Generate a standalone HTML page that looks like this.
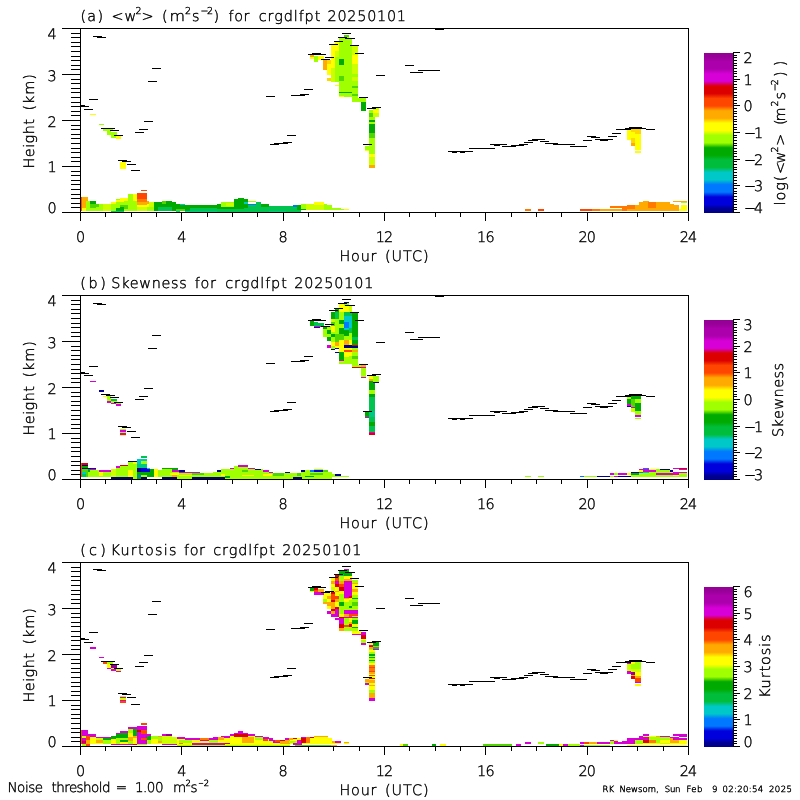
<!DOCTYPE html>
<html><head><meta charset="utf-8"><title>Doppler lidar vertical velocity statistics</title>
<style>
html,body{margin:0;padding:0;background:#fff;}
body{width:800px;height:800px;overflow:hidden;}
svg{display:block;}
text{font-family:"DejaVu Sans Light","DejaVu Sans","Liberation Sans",sans-serif;fill:#000;stroke:#000;stroke-width:0.4px;shape-rendering:auto;text-rendering:geometricPrecision;}
.sm{stroke-width:0.3px;}
</style></head><body>
<svg width="800" height="800" viewBox="0 0 800 800" shape-rendering="crispEdges">
<defs><linearGradient id="cm" x1="0" y1="0" x2="0" y2="1">
<stop offset="0.0000" stop-color="rgb(150,0,150)"/>
<stop offset="0.0231" stop-color="rgb(150,0,150)"/>
<stop offset="0.0538" stop-color="rgb(172,0,172)"/>
<stop offset="0.1000" stop-color="rgb(172,0,172)"/>
<stop offset="0.1308" stop-color="rgb(215,0,215)"/>
<stop offset="0.1769" stop-color="rgb(215,0,215)"/>
<stop offset="0.2077" stop-color="rgb(220,0,0)"/>
<stop offset="0.2538" stop-color="rgb(220,0,0)"/>
<stop offset="0.2846" stop-color="rgb(255,70,0)"/>
<stop offset="0.3308" stop-color="rgb(255,70,0)"/>
<stop offset="0.3615" stop-color="rgb(255,170,0)"/>
<stop offset="0.4077" stop-color="rgb(255,170,0)"/>
<stop offset="0.4385" stop-color="rgb(255,255,0)"/>
<stop offset="0.4846" stop-color="rgb(255,255,0)"/>
<stop offset="0.5154" stop-color="rgb(160,255,0)"/>
<stop offset="0.5615" stop-color="rgb(160,255,0)"/>
<stop offset="0.5923" stop-color="rgb(0,170,0)"/>
<stop offset="0.6385" stop-color="rgb(0,170,0)"/>
<stop offset="0.6692" stop-color="rgb(0,190,60)"/>
<stop offset="0.7154" stop-color="rgb(0,190,60)"/>
<stop offset="0.7462" stop-color="rgb(0,200,200)"/>
<stop offset="0.7923" stop-color="rgb(0,200,200)"/>
<stop offset="0.8231" stop-color="rgb(0,120,255)"/>
<stop offset="0.8692" stop-color="rgb(0,120,255)"/>
<stop offset="0.9000" stop-color="rgb(0,0,220)"/>
<stop offset="0.9462" stop-color="rgb(0,0,220)"/>
<stop offset="0.9769" stop-color="rgb(0,0,140)"/>
<stop offset="1.0000" stop-color="rgb(0,0,140)"/>
</linearGradient></defs>
<rect x="0" y="0" width="800" height="800" fill="#fff"/>
<rect x="90" y="114" width="6" height="1" fill="#ffff00"/>
<rect x="99" y="124" width="5" height="1" fill="#a0ff00"/>
<rect x="103" y="129" width="10" height="2" fill="#a0ff00"/>
<rect x="107" y="131" width="4" height="4" fill="#a0ff00"/>
<rect x="111" y="132" width="6" height="4" fill="#a0ff00"/>
<rect x="111" y="136" width="5" height="2" fill="#a0ff00"/>
<rect x="116" y="136" width="5" height="3" fill="#ffff00"/>
<rect x="120" y="162" width="6" height="7" fill="#ffff00"/>
<rect x="323" y="60" width="4" height="10" fill="#ffaa00"/>
<rect x="327" y="60" width="4" height="4" fill="#ffd700"/>
<rect x="327" y="64" width="4" height="11" fill="#ffff00"/>
<rect x="327" y="78" width="4" height="3" fill="#ffd700"/>
<rect x="331" y="45" width="4" height="23" fill="#ffff00"/>
<rect x="331" y="68" width="4" height="14" fill="#cdff00"/>
<rect x="335" y="42" width="4" height="9" fill="#ffff00"/>
<rect x="335" y="51" width="4" height="6" fill="#cdff00"/>
<rect x="335" y="57" width="4" height="25" fill="#a0ff00"/>
<rect x="335" y="85" width="4" height="1" fill="#ffff00"/>
<rect x="339" y="38" width="5" height="21" fill="#a0ff00"/>
<rect x="339" y="59" width="5" height="6" fill="#00aa00"/>
<rect x="339" y="65" width="5" height="11" fill="#a0ff00"/>
<rect x="339" y="76" width="5" height="5" fill="#50d700"/>
<rect x="339" y="81" width="5" height="11" fill="#a0ff00"/>
<rect x="339" y="92" width="5" height="1" fill="#00aa00"/>
<rect x="339" y="93" width="5" height="3" fill="#a0ff00"/>
<rect x="339" y="96" width="5" height="1" fill="#ffff00"/>
<rect x="344" y="35" width="5" height="2" fill="#50d700"/>
<rect x="344" y="37" width="5" height="55" fill="#a0ff00"/>
<rect x="344" y="92" width="5" height="1" fill="#00aa00"/>
<rect x="344" y="93" width="5" height="4" fill="#a0ff00"/>
<rect x="349" y="38" width="3" height="54" fill="#a0ff00"/>
<rect x="349" y="92" width="3" height="1" fill="#00aa00"/>
<rect x="349" y="93" width="3" height="4" fill="#a0ff00"/>
<rect x="352" y="46" width="6" height="9" fill="#cdff00"/>
<rect x="352" y="55" width="6" height="9" fill="#ffff00"/>
<rect x="352" y="64" width="6" height="10" fill="#cdff00"/>
<rect x="352" y="74" width="6" height="3" fill="#a0ff00"/>
<rect x="352" y="77" width="6" height="4" fill="#cdff00"/>
<rect x="352" y="81" width="6" height="5" fill="#a0ff00"/>
<rect x="352" y="86" width="6" height="2" fill="#50d700"/>
<rect x="352" y="88" width="6" height="6" fill="#a0ff00"/>
<rect x="352" y="94" width="6" height="2" fill="#50d700"/>
<rect x="352" y="96" width="6" height="6" fill="#a0ff00"/>
<rect x="358" y="98" width="8" height="4" fill="#a0ff00"/>
<rect x="310" y="55" width="4" height="2" fill="#ffaa00"/>
<rect x="310" y="57" width="4" height="2" fill="#ffff00"/>
<rect x="314" y="56" width="4" height="6" fill="#a0ff00"/>
<rect x="318" y="56" width="6" height="4" fill="#ffff00"/>
<rect x="361" y="102" width="5" height="9" fill="#00aa00"/>
<rect x="369" y="110" width="6" height="3" fill="#a0ff00"/>
<rect x="369" y="113" width="6" height="4" fill="#50d700"/>
<rect x="369" y="117" width="6" height="3" fill="#a0ff00"/>
<rect x="369" y="120" width="6" height="2" fill="#00aa00"/>
<rect x="369" y="122" width="6" height="2" fill="#a0ff00"/>
<rect x="369" y="124" width="6" height="9" fill="#00aa00"/>
<rect x="369" y="133" width="6" height="5" fill="#50d700"/>
<rect x="369" y="138" width="6" height="16" fill="#a0ff00"/>
<rect x="369" y="154" width="6" height="3" fill="#ffff00"/>
<rect x="369" y="157" width="6" height="8" fill="#cdff00"/>
<rect x="369" y="165" width="6" height="3" fill="#ffaa00"/>
<rect x="373" y="108" width="6" height="2" fill="#cdff00"/>
<rect x="373" y="110" width="6" height="3" fill="#ffff00"/>
<rect x="373" y="113" width="6" height="4" fill="#cdff00"/>
<rect x="365" y="146" width="4" height="4" fill="#a0ff00"/>
<rect x="365" y="150" width="4" height="1" fill="#ffff00"/>
<rect x="627" y="130" width="4" height="10" fill="#ffff00"/>
<rect x="631" y="129" width="4" height="3" fill="#ffd700"/>
<rect x="631" y="132" width="4" height="6" fill="#ffff00"/>
<rect x="631" y="138" width="4" height="5" fill="#ffd700"/>
<rect x="631" y="143" width="4" height="3" fill="#ffaa00"/>
<rect x="635" y="129" width="6" height="5" fill="#ffd700"/>
<rect x="635" y="134" width="6" height="16" fill="#ffff00"/>
<rect x="635" y="151" width="6" height="2" fill="#ffff00"/>
<rect x="81" y="197" width="5" height="11" fill="#ffaa00"/>
<rect x="81" y="208" width="5" height="3" fill="#ffff00"/>
<rect x="81" y="197" width="1" height="14" fill="#ff4600"/>
<rect x="86" y="197" width="2" height="4" fill="#ffaa00"/>
<rect x="86" y="201" width="4" height="10" fill="#a0ff00"/>
<rect x="90" y="201" width="6" height="3" fill="#00aa00"/>
<rect x="90" y="204" width="6" height="4" fill="#50d700"/>
<rect x="90" y="208" width="6" height="3" fill="#a0ff00"/>
<rect x="96" y="204" width="3" height="3" fill="#50d700"/>
<rect x="96" y="207" width="3" height="4" fill="#a0ff00"/>
<rect x="99" y="204" width="4" height="7" fill="#a0ff00"/>
<rect x="103" y="204" width="8" height="7" fill="#cdff00"/>
<rect x="111" y="202" width="5" height="2" fill="#ffff00"/>
<rect x="111" y="204" width="5" height="7" fill="#a0ff00"/>
<rect x="111" y="211" width="5" height="1" fill="#00c882"/>
<rect x="116" y="199" width="4" height="1" fill="#a0ff00"/>
<rect x="116" y="200" width="4" height="2" fill="#ffff00"/>
<rect x="116" y="202" width="4" height="6" fill="#a0ff00"/>
<rect x="116" y="208" width="4" height="3" fill="#00aa00"/>
<rect x="116" y="211" width="4" height="1" fill="#00c882"/>
<rect x="120" y="198" width="4" height="4" fill="#ffff00"/>
<rect x="120" y="202" width="4" height="3" fill="#a0ff00"/>
<rect x="120" y="205" width="4" height="2" fill="#50d700"/>
<rect x="120" y="207" width="4" height="4" fill="#00aa00"/>
<rect x="120" y="211" width="4" height="1" fill="#00c882"/>
<rect x="124" y="198" width="4" height="3" fill="#ffff00"/>
<rect x="124" y="201" width="4" height="4" fill="#a0ff00"/>
<rect x="124" y="205" width="4" height="4" fill="#50d700"/>
<rect x="124" y="209" width="4" height="2" fill="#a0ff00"/>
<rect x="128" y="194" width="5" height="17" fill="#a0ff00"/>
<rect x="133" y="194" width="4" height="7" fill="#ffff00"/>
<rect x="133" y="201" width="4" height="10" fill="#a0ff00"/>
<rect x="137" y="193" width="10" height="6" fill="#ff4600"/>
<rect x="137" y="199" width="10" height="3" fill="#ff7800"/>
<rect x="137" y="202" width="10" height="3" fill="#ffaa00"/>
<rect x="137" y="205" width="10" height="2" fill="#ffff00"/>
<rect x="137" y="207" width="10" height="4" fill="#cdff00"/>
<rect x="141" y="190" width="6" height="1" fill="#ff4600"/>
<rect x="147" y="201" width="2" height="3" fill="#ffaa00"/>
<rect x="147" y="204" width="2" height="3" fill="#ffff00"/>
<rect x="147" y="207" width="2" height="4" fill="#a0ff00"/>
<rect x="149" y="202" width="5" height="5" fill="#cdff00"/>
<rect x="149" y="207" width="5" height="4" fill="#a0ff00"/>
<rect x="154" y="202" width="8" height="5" fill="#00aa00"/>
<rect x="154" y="207" width="8" height="4" fill="#00c350"/>
<rect x="154" y="207" width="4" height="4" fill="#00aa00"/>
<rect x="162" y="201" width="4" height="3" fill="#50d700"/>
<rect x="162" y="204" width="4" height="3" fill="#00aa00"/>
<rect x="162" y="207" width="4" height="4" fill="#00c350"/>
<rect x="166" y="201" width="6" height="6" fill="#00aa00"/>
<rect x="166" y="207" width="6" height="4" fill="#00c350"/>
<rect x="172" y="202" width="4" height="9" fill="#00aa00"/>
<rect x="176" y="204" width="4" height="5" fill="#00aa00"/>
<rect x="176" y="209" width="4" height="2" fill="#50d700"/>
<rect x="176" y="211" width="4" height="1" fill="#00c8c8"/>
<rect x="180" y="204" width="5" height="1" fill="#00c8c8"/>
<rect x="180" y="205" width="5" height="4" fill="#00aa00"/>
<rect x="180" y="209" width="5" height="2" fill="#50d700"/>
<rect x="185" y="205" width="6" height="6" fill="#00aa00"/>
<rect x="185" y="211" width="6" height="1" fill="#00c8c8"/>
<rect x="190" y="205" width="27" height="3" fill="#00aa00"/>
<rect x="190" y="208" width="27" height="3" fill="#00c350"/>
<rect x="190" y="211" width="27" height="1" fill="#00c882"/>
<rect x="217" y="204" width="4" height="5" fill="#00aa00"/>
<rect x="217" y="209" width="4" height="3" fill="#00c350"/>
<rect x="221" y="202" width="13" height="5" fill="#a0ff00"/>
<rect x="221" y="207" width="13" height="2" fill="#00aa00"/>
<rect x="221" y="209" width="13" height="3" fill="#00c350"/>
<rect x="226" y="203" width="8" height="3" fill="#cdff00"/>
<rect x="234" y="199" width="4" height="10" fill="#00aa00"/>
<rect x="234" y="209" width="4" height="3" fill="#00c350"/>
<rect x="238" y="198" width="6" height="11" fill="#00aa00"/>
<rect x="238" y="209" width="6" height="3" fill="#00c350"/>
<rect x="244" y="199" width="4" height="3" fill="#00aa00"/>
<rect x="244" y="202" width="4" height="2" fill="#00c8c8"/>
<rect x="244" y="204" width="4" height="4" fill="#00aa00"/>
<rect x="244" y="208" width="4" height="4" fill="#00c350"/>
<rect x="248" y="201" width="8" height="1" fill="#a0ff00"/>
<rect x="248" y="204" width="8" height="1" fill="#0078ff"/>
<rect x="248" y="205" width="8" height="7" fill="#00c350"/>
<rect x="256" y="202" width="5" height="10" fill="#00c350"/>
<rect x="261" y="204" width="8" height="3" fill="#00aa00"/>
<rect x="261" y="207" width="8" height="5" fill="#00c350"/>
<rect x="269" y="206" width="17" height="5" fill="#00c350"/>
<rect x="269" y="211" width="17" height="1" fill="#00c882"/>
<rect x="286" y="206" width="7" height="6" fill="#00c350"/>
<rect x="293" y="205" width="4" height="2" fill="#0078ff"/>
<rect x="293" y="207" width="4" height="5" fill="#00c350"/>
<rect x="297" y="205" width="4" height="5" fill="#00aa00"/>
<rect x="297" y="210" width="4" height="2" fill="#00c350"/>
<rect x="301" y="204" width="5" height="5" fill="#a0ff00"/>
<rect x="301" y="209" width="5" height="1" fill="#00aa00"/>
<rect x="306" y="204" width="8" height="6" fill="#cdff00"/>
<rect x="314" y="202" width="10" height="3" fill="#ffff00"/>
<rect x="314" y="205" width="10" height="5" fill="#cdff00"/>
<rect x="324" y="204" width="3" height="6" fill="#a0ff00"/>
<rect x="327" y="205" width="5" height="5" fill="#a0ff00"/>
<rect x="332" y="208" width="9" height="2" fill="#a0ff00"/>
<rect x="341" y="209" width="3" height="1" fill="#a0ff00"/>
<rect x="344" y="209" width="5" height="1" fill="#ffff00"/>
<rect x="525" y="209" width="6" height="2" fill="#ff7800"/>
<rect x="538" y="209" width="6" height="2" fill="#ff4600"/>
<rect x="580" y="209" width="12" height="2" fill="#ff4600"/>
<rect x="592" y="209" width="8" height="2" fill="#ff7800"/>
<rect x="600" y="209" width="10" height="2" fill="#ffaa00"/>
<rect x="610" y="206" width="12" height="2" fill="#ff7800"/>
<rect x="610" y="209" width="12" height="2" fill="#ffaa00"/>
<rect x="622" y="206" width="5" height="5" fill="#ff7800"/>
<rect x="627" y="205" width="8" height="4" fill="#ff7800"/>
<rect x="627" y="209" width="8" height="2" fill="#ffaa00"/>
<rect x="635" y="205" width="4" height="6" fill="#ffaa00"/>
<rect x="639" y="202" width="4" height="9" fill="#ffaa00"/>
<rect x="643" y="201" width="6" height="10" fill="#ffaa00"/>
<rect x="649" y="202" width="21" height="9" fill="#ffaa00"/>
<rect x="648" y="202" width="8" height="6" fill="#ff7800"/>
<rect x="670" y="204" width="4" height="7" fill="#ffaa00"/>
<rect x="674" y="205" width="5" height="6" fill="#ffaa00"/>
<rect x="679" y="209" width="2" height="2" fill="#ffff00"/>
<rect x="673" y="201" width="8" height="1" fill="#ffaa00"/>
<rect x="681" y="201" width="6" height="1" fill="#ffaa00"/>
<rect x="681" y="202" width="6" height="1" fill="#a0ff00"/>
<rect x="681" y="205" width="6" height="6" fill="#ffff00"/>
<rect x="90" y="381" width="6" height="1" fill="#d700d7"/>
<rect x="99" y="390" width="5" height="2" fill="#00008c"/>
<rect x="103" y="396" width="4" height="1" fill="#ffff00"/>
<rect x="107" y="396" width="4" height="5" fill="#a0ff00"/>
<rect x="107" y="401" width="4" height="1" fill="#50d700"/>
<rect x="107" y="401" width="4" height="2" fill="#d700d7"/>
<rect x="111" y="399" width="6" height="2" fill="#00c350"/>
<rect x="111" y="401" width="6" height="2" fill="#a0ff00"/>
<rect x="111" y="403" width="6" height="1" fill="#d700d7"/>
<rect x="116" y="403" width="5" height="1" fill="#a0ff00"/>
<rect x="116" y="404" width="5" height="2" fill="#d700d7"/>
<rect x="120" y="429" width="6" height="1" fill="#a0ff00"/>
<rect x="120" y="430" width="6" height="2" fill="#d700d7"/>
<rect x="120" y="432" width="6" height="1" fill="#a0ff00"/>
<rect x="120" y="433" width="6" height="2" fill="#d700d7"/>
<rect x="120" y="435" width="6" height="1" fill="#ffff00"/>
<rect x="141" y="456" width="6" height="2" fill="#00c350"/>
<rect x="323" y="327" width="4" height="2" fill="#00aa00"/>
<rect x="323" y="329" width="4" height="8" fill="#a0ff00"/>
<rect x="327" y="326" width="4" height="4" fill="#a0ff00"/>
<rect x="327" y="330" width="4" height="4" fill="#00aa00"/>
<rect x="327" y="334" width="4" height="3" fill="#a0ff00"/>
<rect x="327" y="337" width="4" height="4" fill="#00aa00"/>
<rect x="327" y="345" width="4" height="3" fill="#d700d7"/>
<rect x="331" y="312" width="4" height="7" fill="#00aa00"/>
<rect x="331" y="319" width="4" height="3" fill="#cdff00"/>
<rect x="331" y="322" width="4" height="4" fill="#50d700"/>
<rect x="331" y="326" width="4" height="6" fill="#ffff00"/>
<rect x="331" y="332" width="4" height="2" fill="#a0ff00"/>
<rect x="331" y="334" width="4" height="3" fill="#00aa00"/>
<rect x="331" y="337" width="4" height="5" fill="#a0ff00"/>
<rect x="331" y="342" width="4" height="4" fill="#ffff00"/>
<rect x="331" y="346" width="4" height="3" fill="#a0ff00"/>
<rect x="331" y="349" width="4" height="1" fill="#00008c"/>
<rect x="335" y="309" width="4" height="3" fill="#00aa00"/>
<rect x="335" y="312" width="4" height="7" fill="#00c350"/>
<rect x="335" y="319" width="4" height="15" fill="#a0ff00"/>
<rect x="335" y="334" width="4" height="8" fill="#50d700"/>
<rect x="335" y="342" width="4" height="4" fill="#ffaa00"/>
<rect x="335" y="346" width="4" height="2" fill="#ffff00"/>
<rect x="335" y="348" width="4" height="1" fill="#0000dc"/>
<rect x="335" y="352" width="4" height="1" fill="#00008c"/>
<rect x="339" y="304" width="5" height="8" fill="#ffff00"/>
<rect x="339" y="312" width="5" height="8" fill="#a0ff00"/>
<rect x="339" y="320" width="5" height="4" fill="#00aa00"/>
<rect x="339" y="324" width="5" height="4" fill="#a0ff00"/>
<rect x="339" y="328" width="5" height="6" fill="#00aa00"/>
<rect x="339" y="334" width="5" height="6" fill="#50d700"/>
<rect x="339" y="340" width="5" height="12" fill="#ffff00"/>
<rect x="339" y="352" width="5" height="8" fill="#00aa00"/>
<rect x="339" y="360" width="5" height="1" fill="#d700d7"/>
<rect x="339" y="361" width="5" height="3" fill="#a0ff00"/>
<rect x="344" y="302" width="5" height="1" fill="#00008c"/>
<rect x="344" y="303" width="5" height="3" fill="#a0ff00"/>
<rect x="344" y="306" width="5" height="6" fill="#ffff00"/>
<rect x="344" y="312" width="5" height="4" fill="#00c350"/>
<rect x="344" y="316" width="5" height="6" fill="#00c8c8"/>
<rect x="344" y="322" width="5" height="6" fill="#0078ff"/>
<rect x="344" y="328" width="5" height="2" fill="#00c8c8"/>
<rect x="344" y="330" width="5" height="6" fill="#00aa00"/>
<rect x="344" y="336" width="5" height="4" fill="#a0ff00"/>
<rect x="344" y="340" width="5" height="5" fill="#ffaa00"/>
<rect x="344" y="345" width="5" height="3" fill="#00008c"/>
<rect x="344" y="348" width="5" height="2" fill="#ffff00"/>
<rect x="344" y="350" width="5" height="2" fill="#ff4600"/>
<rect x="344" y="352" width="5" height="5" fill="#ffff00"/>
<rect x="344" y="357" width="5" height="7" fill="#a0ff00"/>
<rect x="349" y="306" width="3" height="6" fill="#cdff00"/>
<rect x="349" y="312" width="3" height="4" fill="#00c350"/>
<rect x="349" y="316" width="3" height="12" fill="#00c8c8"/>
<rect x="349" y="328" width="3" height="5" fill="#00c350"/>
<rect x="349" y="333" width="3" height="7" fill="#a0ff00"/>
<rect x="349" y="340" width="3" height="5" fill="#ffff00"/>
<rect x="349" y="345" width="3" height="3" fill="#00008c"/>
<rect x="349" y="348" width="3" height="2" fill="#ffff00"/>
<rect x="349" y="350" width="3" height="2" fill="#ff4600"/>
<rect x="349" y="352" width="3" height="4" fill="#ffff00"/>
<rect x="349" y="356" width="3" height="8" fill="#a0ff00"/>
<rect x="352" y="313" width="6" height="24" fill="#00aa00"/>
<rect x="352" y="337" width="6" height="3" fill="#00c350"/>
<rect x="352" y="340" width="6" height="5" fill="#00aa00"/>
<rect x="352" y="345" width="6" height="1" fill="#dc0000"/>
<rect x="352" y="346" width="6" height="2" fill="#00008c"/>
<rect x="352" y="348" width="6" height="2" fill="#a0ff00"/>
<rect x="352" y="350" width="6" height="2" fill="#ffaa00"/>
<rect x="352" y="352" width="6" height="4" fill="#a0ff00"/>
<rect x="352" y="356" width="6" height="3" fill="#50d700"/>
<rect x="352" y="359" width="6" height="8" fill="#a0ff00"/>
<rect x="352" y="367" width="6" height="1" fill="#dc0000"/>
<rect x="358" y="365" width="3" height="2" fill="#a0ff00"/>
<rect x="358" y="367" width="3" height="1" fill="#dc0000"/>
<rect x="361" y="365" width="5" height="2" fill="#ffaa00"/>
<rect x="361" y="367" width="5" height="1" fill="#d700d7"/>
<rect x="361" y="368" width="5" height="9" fill="#a0ff00"/>
<rect x="361" y="377" width="5" height="1" fill="#d700d7"/>
<rect x="310" y="321" width="4" height="5" fill="#00aa00"/>
<rect x="314" y="322" width="4" height="4" fill="#00c350"/>
<rect x="318" y="323" width="6" height="3" fill="#00c350"/>
<rect x="314" y="326" width="10" height="1" fill="#d700d7"/>
<rect x="314" y="327" width="6" height="1" fill="#00008c"/>
<rect x="369" y="376" width="6" height="3" fill="#ffff00"/>
<rect x="369" y="379" width="6" height="2" fill="#ffaa00"/>
<rect x="369" y="381" width="6" height="7" fill="#00aa00"/>
<rect x="369" y="388" width="6" height="1" fill="#a0ff00"/>
<rect x="369" y="388" width="6" height="2" fill="#00aa00"/>
<rect x="369" y="390" width="6" height="4" fill="#a0ff00"/>
<rect x="369" y="394" width="6" height="3" fill="#00aa00"/>
<rect x="369" y="397" width="6" height="14" fill="#00c350"/>
<rect x="369" y="411" width="6" height="6" fill="#00c882"/>
<rect x="369" y="417" width="6" height="5" fill="#00c350"/>
<rect x="369" y="422" width="6" height="4" fill="#00aa00"/>
<rect x="369" y="426" width="6" height="6" fill="#00c350"/>
<rect x="369" y="432" width="6" height="1" fill="#d700d7"/>
<rect x="369" y="433" width="6" height="2" fill="#dc0000"/>
<rect x="373" y="376" width="6" height="6" fill="#a0ff00"/>
<rect x="373" y="382" width="6" height="1" fill="#00008c"/>
<rect x="365" y="412" width="4" height="5" fill="#00aa00"/>
<rect x="365" y="417" width="4" height="1" fill="#d700d7"/>
<rect x="627" y="397" width="4" height="2" fill="#a0ff00"/>
<rect x="627" y="399" width="4" height="5" fill="#00aa00"/>
<rect x="627" y="404" width="4" height="2" fill="#d700d7"/>
<rect x="627" y="406" width="4" height="1" fill="#00008c"/>
<rect x="631" y="396" width="4" height="3" fill="#00aa00"/>
<rect x="631" y="399" width="4" height="8" fill="#50d700"/>
<rect x="631" y="407" width="4" height="1" fill="#d700d7"/>
<rect x="631" y="408" width="4" height="4" fill="#cdff00"/>
<rect x="635" y="396" width="6" height="3" fill="#00aa00"/>
<rect x="635" y="399" width="6" height="4" fill="#a0ff00"/>
<rect x="635" y="403" width="6" height="8" fill="#00aa00"/>
<rect x="635" y="411" width="6" height="4" fill="#a0ff00"/>
<rect x="635" y="415" width="6" height="2" fill="#d700d7"/>
<rect x="635" y="418" width="6" height="1" fill="#a0ff00"/>
<rect x="81" y="463" width="1" height="14" fill="#ff4600"/>
<rect x="82" y="463" width="6" height="2" fill="#dc0000"/>
<rect x="82" y="465" width="6" height="1" fill="#00008c"/>
<rect x="82" y="466" width="6" height="2" fill="#00aa00"/>
<rect x="82" y="468" width="6" height="1" fill="#00008c"/>
<rect x="82" y="469" width="6" height="3" fill="#50d700"/>
<rect x="82" y="472" width="6" height="2" fill="#00c8c8"/>
<rect x="82" y="474" width="6" height="3" fill="#00c350"/>
<rect x="88" y="468" width="2" height="1" fill="#00008c"/>
<rect x="88" y="469" width="2" height="3" fill="#00aa00"/>
<rect x="88" y="472" width="2" height="5" fill="#a0ff00"/>
<rect x="86" y="469" width="2" height="8" fill="#50d700"/>
<rect x="90" y="468" width="6" height="1" fill="#00008c"/>
<rect x="90" y="469" width="6" height="1" fill="#d700d7"/>
<rect x="90" y="470" width="6" height="7" fill="#a0ff00"/>
<rect x="96" y="470" width="3" height="7" fill="#a0ff00"/>
<rect x="99" y="470" width="12" height="2" fill="#d700d7"/>
<rect x="99" y="472" width="12" height="5" fill="#a0ff00"/>
<rect x="99" y="472" width="4" height="4" fill="#ffff00"/>
<rect x="111" y="469" width="5" height="8" fill="#cdff00"/>
<rect x="111" y="477" width="5" height="2" fill="#00008c"/>
<rect x="116" y="466" width="4" height="2" fill="#d700d7"/>
<rect x="116" y="468" width="4" height="9" fill="#a0ff00"/>
<rect x="116" y="477" width="4" height="2" fill="#00008c"/>
<rect x="120" y="465" width="8" height="1" fill="#dc0000"/>
<rect x="120" y="466" width="8" height="11" fill="#a0ff00"/>
<rect x="120" y="477" width="8" height="2" fill="#00008c"/>
<rect x="128" y="461" width="5" height="1" fill="#00008c"/>
<rect x="128" y="462" width="5" height="8" fill="#a0ff00"/>
<rect x="128" y="470" width="5" height="7" fill="#ffff00"/>
<rect x="128" y="477" width="5" height="2" fill="#00008c"/>
<rect x="133" y="461" width="4" height="1" fill="#00008c"/>
<rect x="133" y="462" width="4" height="2" fill="#ffff00"/>
<rect x="133" y="464" width="4" height="13" fill="#a0ff00"/>
<rect x="133" y="477" width="4" height="2" fill="#a0ff00"/>
<rect x="137" y="459" width="4" height="5" fill="#00c8c8"/>
<rect x="137" y="464" width="4" height="4" fill="#00c882"/>
<rect x="137" y="468" width="4" height="4" fill="#00008c"/>
<rect x="137" y="472" width="4" height="3" fill="#00aa00"/>
<rect x="137" y="475" width="4" height="2" fill="#0078ff"/>
<rect x="137" y="477" width="4" height="2" fill="#00aa00"/>
<rect x="141" y="456" width="6" height="2" fill="#00c350"/>
<rect x="141" y="459" width="6" height="2" fill="#00c8c8"/>
<rect x="141" y="461" width="6" height="3" fill="#a0ff00"/>
<rect x="141" y="464" width="6" height="4" fill="#00c882"/>
<rect x="141" y="468" width="6" height="4" fill="#0000dc"/>
<rect x="141" y="472" width="6" height="3" fill="#00aa00"/>
<rect x="141" y="475" width="6" height="2" fill="#a0ff00"/>
<rect x="141" y="477" width="6" height="2" fill="#00008c"/>
<rect x="147" y="468" width="3" height="1" fill="#00c8c8"/>
<rect x="147" y="469" width="3" height="3" fill="#0000dc"/>
<rect x="147" y="472" width="3" height="5" fill="#00aa00"/>
<rect x="150" y="469" width="4" height="8" fill="#00aa00"/>
<rect x="154" y="469" width="4" height="8" fill="#ffff00"/>
<rect x="158" y="470" width="4" height="7" fill="#a0ff00"/>
<rect x="162" y="468" width="10" height="1" fill="#00aa00"/>
<rect x="162" y="469" width="10" height="8" fill="#a0ff00"/>
<rect x="162" y="477" width="10" height="2" fill="#00008c"/>
<rect x="172" y="468" width="6" height="2" fill="#00aa00"/>
<rect x="172" y="470" width="6" height="2" fill="#d700d7"/>
<rect x="172" y="472" width="6" height="3" fill="#a0ff00"/>
<rect x="172" y="475" width="6" height="2" fill="#ffaa00"/>
<rect x="172" y="477" width="6" height="2" fill="#00008c"/>
<rect x="177" y="470" width="8" height="7" fill="#a0ff00"/>
<rect x="185" y="472" width="15" height="5" fill="#a0ff00"/>
<rect x="200" y="473" width="13" height="4" fill="#a0ff00"/>
<rect x="213" y="472" width="8" height="5" fill="#a0ff00"/>
<rect x="221" y="469" width="9" height="8" fill="#a0ff00"/>
<rect x="230" y="468" width="4" height="9" fill="#a0ff00"/>
<rect x="234" y="466" width="4" height="11" fill="#a0ff00"/>
<rect x="238" y="465" width="5" height="12" fill="#a0ff00"/>
<rect x="243" y="466" width="5" height="11" fill="#a0ff00"/>
<rect x="248" y="468" width="7" height="9" fill="#a0ff00"/>
<rect x="255" y="469" width="8" height="8" fill="#a0ff00"/>
<rect x="263" y="470" width="6" height="7" fill="#a0ff00"/>
<rect x="269" y="472" width="4" height="5" fill="#a0ff00"/>
<rect x="273" y="473" width="17" height="4" fill="#a0ff00"/>
<rect x="192" y="477" width="33" height="2" fill="#00008c"/>
<rect x="225" y="477" width="65" height="2" fill="#a0ff00"/>
<rect x="177" y="477" width="15" height="2" fill="#a0ff00"/>
<rect x="177" y="470" width="2" height="2" fill="#d700d7"/>
<rect x="179" y="472" width="21" height="1" fill="#d700d7"/>
<rect x="230" y="468" width="4" height="1" fill="#d700d7"/>
<rect x="238" y="465" width="10" height="2" fill="#d700d7"/>
<rect x="248" y="468" width="7" height="1" fill="#d700d7"/>
<rect x="263" y="470" width="6" height="2" fill="#d700d7"/>
<rect x="269" y="472" width="4" height="1" fill="#d700d7"/>
<rect x="179" y="470" width="6" height="2" fill="#00008c"/>
<rect x="217" y="470" width="4" height="2" fill="#00008c"/>
<rect x="255" y="469" width="6" height="1" fill="#00008c"/>
<rect x="285" y="472" width="4" height="1" fill="#00008c"/>
<rect x="170" y="473" width="9" height="2" fill="#ffff00"/>
<rect x="179" y="475" width="13" height="1" fill="#ffff00"/>
<rect x="221" y="474" width="4" height="2" fill="#ffff00"/>
<rect x="242" y="475" width="12" height="1" fill="#ffff00"/>
<rect x="263" y="474" width="9" height="2" fill="#ffff00"/>
<rect x="192" y="473" width="12" height="2" fill="#50d700"/>
<rect x="225" y="476" width="5" height="2" fill="#00aa00"/>
<rect x="242" y="470" width="6" height="2" fill="#50d700"/>
<rect x="273" y="473" width="11" height="3" fill="#50d700"/>
<rect x="290" y="473" width="11" height="4" fill="#a0ff00"/>
<rect x="301" y="470" width="13" height="7" fill="#a0ff00"/>
<rect x="314" y="469" width="9" height="8" fill="#a0ff00"/>
<rect x="323" y="470" width="5" height="7" fill="#a0ff00"/>
<rect x="328" y="472" width="4" height="5" fill="#a0ff00"/>
<rect x="332" y="474" width="9" height="3" fill="#a0ff00"/>
<rect x="341" y="476" width="3" height="1" fill="#a0ff00"/>
<rect x="344" y="476" width="5" height="1" fill="#a0ff00"/>
<rect x="290" y="477" width="42" height="2" fill="#a0ff00"/>
<rect x="293" y="477" width="9" height="2" fill="#00008c"/>
<rect x="285" y="472" width="5" height="1" fill="#00008c"/>
<rect x="301" y="470" width="4" height="2" fill="#00008c"/>
<rect x="335" y="474" width="6" height="2" fill="#00008c"/>
<rect x="310" y="470" width="13" height="2" fill="#0000dc"/>
<rect x="310" y="470" width="4" height="2" fill="#0078ff"/>
<rect x="297" y="473" width="4" height="3" fill="#50d700"/>
<rect x="310" y="473" width="13" height="2" fill="#50d700"/>
<rect x="323" y="470" width="5" height="2" fill="#50d700"/>
<rect x="305" y="476" width="9" height="1" fill="#00aa00"/>
<rect x="525" y="476" width="6" height="1" fill="#a0ff00"/>
<rect x="538" y="476" width="6" height="1" fill="#a0ff00"/>
<rect x="580" y="476" width="4" height="1" fill="#0078ff"/>
<rect x="584" y="476" width="13" height="1" fill="#a0ff00"/>
<rect x="597" y="476" width="13" height="1" fill="#00008c"/>
<rect x="610" y="473" width="4" height="2" fill="#d700d7"/>
<rect x="610" y="476" width="4" height="1" fill="#a0ff00"/>
<rect x="614" y="473" width="4" height="2" fill="#a0ff00"/>
<rect x="614" y="476" width="4" height="1" fill="#d700d7"/>
<rect x="618" y="473" width="9" height="2" fill="#d700d7"/>
<rect x="618" y="476" width="9" height="1" fill="#00008c"/>
<rect x="627" y="473" width="4" height="2" fill="#ffff00"/>
<rect x="627" y="476" width="4" height="1" fill="#00008c"/>
<rect x="631" y="472" width="8" height="1" fill="#ffaa00"/>
<rect x="631" y="472" width="8" height="1" fill="#00008c"/>
<rect x="631" y="473" width="8" height="2" fill="#00aa00"/>
<rect x="631" y="475" width="8" height="2" fill="#a0ff00"/>
<rect x="639" y="469" width="4" height="1" fill="#d700d7"/>
<rect x="639" y="470" width="4" height="2" fill="#ffff00"/>
<rect x="639" y="472" width="4" height="1" fill="#0078ff"/>
<rect x="639" y="473" width="4" height="4" fill="#a0ff00"/>
<rect x="643" y="468" width="6" height="1" fill="#0078ff"/>
<rect x="643" y="469" width="6" height="3" fill="#d700d7"/>
<rect x="643" y="472" width="6" height="1" fill="#00c8c8"/>
<rect x="643" y="473" width="6" height="4" fill="#a0ff00"/>
<rect x="649" y="469" width="7" height="1" fill="#ffff00"/>
<rect x="649" y="470" width="7" height="2" fill="#d700d7"/>
<rect x="649" y="472" width="7" height="5" fill="#a0ff00"/>
<rect x="656" y="469" width="4" height="4" fill="#a0ff00"/>
<rect x="656" y="473" width="4" height="2" fill="#d700d7"/>
<rect x="656" y="475" width="4" height="2" fill="#a0ff00"/>
<rect x="660" y="469" width="10" height="1" fill="#00008c"/>
<rect x="660" y="470" width="10" height="3" fill="#a0ff00"/>
<rect x="660" y="473" width="10" height="2" fill="#d700d7"/>
<rect x="660" y="475" width="10" height="2" fill="#a0ff00"/>
<rect x="670" y="470" width="3" height="2" fill="#00008c"/>
<rect x="670" y="472" width="3" height="1" fill="#ffff00"/>
<rect x="670" y="473" width="3" height="2" fill="#d700d7"/>
<rect x="670" y="475" width="3" height="2" fill="#a0ff00"/>
<rect x="673" y="468" width="6" height="1" fill="#d700d7"/>
<rect x="673" y="472" width="6" height="3" fill="#d700d7"/>
<rect x="673" y="475" width="6" height="1" fill="#ffff00"/>
<rect x="673" y="476" width="6" height="1" fill="#a0ff00"/>
<rect x="679" y="468" width="8" height="1" fill="#dc0000"/>
<rect x="679" y="469" width="8" height="1" fill="#d700d7"/>
<rect x="679" y="472" width="8" height="1" fill="#d700d7"/>
<rect x="679" y="473" width="8" height="4" fill="#a0ff00"/>
<rect x="90" y="647" width="6" height="2" fill="#d700d7"/>
<rect x="99" y="657" width="5" height="1" fill="#d700d7"/>
<rect x="103" y="662" width="4" height="2" fill="#ff4600"/>
<rect x="107" y="662" width="6" height="2" fill="#a0ff00"/>
<rect x="107" y="664" width="4" height="4" fill="#ffff00"/>
<rect x="107" y="668" width="4" height="1" fill="#d700d7"/>
<rect x="111" y="665" width="6" height="3" fill="#960096"/>
<rect x="111" y="669" width="6" height="2" fill="#d700d7"/>
<rect x="111" y="668" width="3" height="1" fill="#ffff00"/>
<rect x="116" y="669" width="5" height="2" fill="#cdff00"/>
<rect x="116" y="671" width="5" height="1" fill="#d700d7"/>
<rect x="120" y="696" width="6" height="1" fill="#a0ff00"/>
<rect x="120" y="697" width="6" height="1" fill="#d700d7"/>
<rect x="120" y="698" width="6" height="2" fill="#cdff00"/>
<rect x="120" y="700" width="6" height="1" fill="#d700d7"/>
<rect x="120" y="701" width="6" height="2" fill="#ff4600"/>
<rect x="141" y="723" width="6" height="2" fill="#ff4600"/>
<rect x="323" y="593" width="4" height="6" fill="#ffff00"/>
<rect x="323" y="599" width="4" height="3" fill="#a0ff00"/>
<rect x="323" y="602" width="4" height="2" fill="#ffaa00"/>
<rect x="327" y="593" width="4" height="3" fill="#ffff00"/>
<rect x="327" y="596" width="4" height="3" fill="#ffaa00"/>
<rect x="327" y="599" width="4" height="3" fill="#ffff00"/>
<rect x="327" y="602" width="4" height="4" fill="#ffaa00"/>
<rect x="327" y="606" width="4" height="3" fill="#ffff00"/>
<rect x="327" y="611" width="4" height="3" fill="#d700d7"/>
<rect x="331" y="578" width="4" height="3" fill="#ffff00"/>
<rect x="331" y="581" width="4" height="3" fill="#ffaa00"/>
<rect x="331" y="584" width="4" height="3" fill="#ffff00"/>
<rect x="331" y="587" width="4" height="5" fill="#cdff00"/>
<rect x="331" y="592" width="4" height="2" fill="#dc0000"/>
<rect x="331" y="594" width="4" height="6" fill="#ff4600"/>
<rect x="331" y="600" width="4" height="2" fill="#dc0000"/>
<rect x="331" y="602" width="4" height="7" fill="#ffaa00"/>
<rect x="331" y="609" width="4" height="2" fill="#dc0000"/>
<rect x="331" y="611" width="4" height="3" fill="#ffaa00"/>
<rect x="331" y="614" width="4" height="3" fill="#d700d7"/>
<rect x="335" y="575" width="4" height="2" fill="#dc0000"/>
<rect x="335" y="577" width="4" height="4" fill="#ff4600"/>
<rect x="335" y="581" width="4" height="3" fill="#d700d7"/>
<rect x="335" y="584" width="4" height="3" fill="#dc0000"/>
<rect x="335" y="587" width="4" height="4" fill="#ffff00"/>
<rect x="335" y="591" width="4" height="1" fill="#ffaa00"/>
<rect x="335" y="592" width="4" height="4" fill="#ffff00"/>
<rect x="335" y="596" width="4" height="3" fill="#ff4600"/>
<rect x="335" y="599" width="4" height="3" fill="#ffaa00"/>
<rect x="335" y="602" width="4" height="5" fill="#ffff00"/>
<rect x="335" y="607" width="4" height="2" fill="#dc0000"/>
<rect x="335" y="609" width="4" height="8" fill="#d700d7"/>
<rect x="335" y="618" width="4" height="2" fill="#d700d7"/>
<rect x="339" y="571" width="5" height="3" fill="#00aa00"/>
<rect x="339" y="574" width="5" height="2" fill="#00c350"/>
<rect x="339" y="576" width="5" height="5" fill="#a0ff00"/>
<rect x="339" y="581" width="5" height="3" fill="#ffaa00"/>
<rect x="339" y="584" width="5" height="3" fill="#ff4600"/>
<rect x="339" y="587" width="5" height="4" fill="#dc0000"/>
<rect x="339" y="591" width="5" height="3" fill="#ffff00"/>
<rect x="339" y="594" width="5" height="8" fill="#a0ff00"/>
<rect x="339" y="602" width="5" height="4" fill="#00aa00"/>
<rect x="339" y="606" width="5" height="8" fill="#a0ff00"/>
<rect x="339" y="614" width="5" height="3" fill="#ffff00"/>
<rect x="339" y="617" width="5" height="1" fill="#dc0000"/>
<rect x="339" y="618" width="5" height="6" fill="#d700d7"/>
<rect x="339" y="624" width="5" height="4" fill="#dc0000"/>
<rect x="339" y="628" width="5" height="3" fill="#ffaa00"/>
<rect x="344" y="569" width="5" height="1" fill="#d700d7"/>
<rect x="344" y="570" width="5" height="6" fill="#00aa00"/>
<rect x="344" y="576" width="5" height="3" fill="#ffff00"/>
<rect x="344" y="579" width="5" height="2" fill="#ffaa00"/>
<rect x="344" y="581" width="5" height="17" fill="#d700d7"/>
<rect x="344" y="598" width="5" height="1" fill="#ffaa00"/>
<rect x="344" y="599" width="5" height="3" fill="#ffff00"/>
<rect x="344" y="602" width="5" height="8" fill="#a0ff00"/>
<rect x="344" y="610" width="5" height="4" fill="#d700d7"/>
<rect x="344" y="614" width="5" height="3" fill="#ffaa00"/>
<rect x="344" y="617" width="5" height="1" fill="#d700d7"/>
<rect x="344" y="618" width="5" height="7" fill="#a0ff00"/>
<rect x="344" y="625" width="5" height="2" fill="#ff4600"/>
<rect x="344" y="627" width="5" height="4" fill="#a0ff00"/>
<rect x="349" y="572" width="3" height="4" fill="#00aa00"/>
<rect x="349" y="576" width="3" height="3" fill="#ffff00"/>
<rect x="349" y="579" width="3" height="2" fill="#ffaa00"/>
<rect x="349" y="581" width="3" height="15" fill="#d700d7"/>
<rect x="349" y="596" width="3" height="2" fill="#dc0000"/>
<rect x="349" y="598" width="3" height="2" fill="#ffff00"/>
<rect x="349" y="600" width="3" height="6" fill="#a0ff00"/>
<rect x="349" y="606" width="3" height="2" fill="#00aa00"/>
<rect x="349" y="608" width="3" height="2" fill="#a0ff00"/>
<rect x="349" y="610" width="3" height="4" fill="#d700d7"/>
<rect x="349" y="614" width="3" height="3" fill="#ff4600"/>
<rect x="349" y="617" width="3" height="1" fill="#d700d7"/>
<rect x="349" y="618" width="3" height="4" fill="#ffff00"/>
<rect x="349" y="622" width="3" height="2" fill="#ffaa00"/>
<rect x="349" y="624" width="3" height="3" fill="#dc0000"/>
<rect x="349" y="627" width="3" height="4" fill="#a0ff00"/>
<rect x="352" y="580" width="6" height="3" fill="#a0ff00"/>
<rect x="352" y="583" width="6" height="1" fill="#ffaa00"/>
<rect x="352" y="584" width="6" height="5" fill="#ffff00"/>
<rect x="352" y="589" width="6" height="3" fill="#ffaa00"/>
<rect x="352" y="592" width="6" height="3" fill="#ffff00"/>
<rect x="352" y="595" width="6" height="3" fill="#a0ff00"/>
<rect x="352" y="598" width="6" height="1" fill="#00aa00"/>
<rect x="352" y="599" width="6" height="3" fill="#a0ff00"/>
<rect x="352" y="602" width="6" height="4" fill="#50d700"/>
<rect x="352" y="606" width="6" height="4" fill="#a0ff00"/>
<rect x="352" y="610" width="6" height="4" fill="#d700d7"/>
<rect x="352" y="614" width="6" height="2" fill="#ff4600"/>
<rect x="352" y="616" width="6" height="1" fill="#a0ff00"/>
<rect x="352" y="617" width="6" height="1" fill="#d700d7"/>
<rect x="352" y="618" width="6" height="2" fill="#a0ff00"/>
<rect x="352" y="620" width="6" height="4" fill="#00aa00"/>
<rect x="352" y="624" width="6" height="3" fill="#ffff00"/>
<rect x="352" y="627" width="6" height="1" fill="#00aa00"/>
<rect x="352" y="628" width="6" height="3" fill="#a0ff00"/>
<rect x="352" y="631" width="6" height="3" fill="#ffff00"/>
<rect x="352" y="634" width="6" height="1" fill="#d700d7"/>
<rect x="358" y="631" width="3" height="3" fill="#ffff00"/>
<rect x="358" y="634" width="3" height="1" fill="#d700d7"/>
<rect x="361" y="632" width="5" height="3" fill="#d700d7"/>
<rect x="361" y="635" width="5" height="4" fill="#dc0000"/>
<rect x="361" y="639" width="5" height="1" fill="#ffff00"/>
<rect x="361" y="640" width="5" height="3" fill="#a0ff00"/>
<rect x="361" y="643" width="5" height="2" fill="#d700d7"/>
<rect x="310" y="588" width="4" height="3" fill="#00aa00"/>
<rect x="310" y="591" width="4" height="1" fill="#ffff00"/>
<rect x="314" y="588" width="4" height="2" fill="#dc0000"/>
<rect x="314" y="590" width="4" height="2" fill="#ff4600"/>
<rect x="318" y="589" width="6" height="3" fill="#ffaa00"/>
<rect x="314" y="592" width="10" height="3" fill="#d700d7"/>
<rect x="369" y="643" width="6" height="2" fill="#ffff00"/>
<rect x="369" y="645" width="6" height="1" fill="#d700d7"/>
<rect x="369" y="646" width="6" height="1" fill="#dc0000"/>
<rect x="369" y="647" width="6" height="2" fill="#ffaa00"/>
<rect x="369" y="649" width="6" height="1" fill="#a0ff00"/>
<rect x="369" y="650" width="6" height="2" fill="#ffff00"/>
<rect x="369" y="652" width="6" height="2" fill="#a0ff00"/>
<rect x="369" y="654" width="6" height="2" fill="#00aa00"/>
<rect x="369" y="656" width="6" height="1" fill="#a0ff00"/>
<rect x="369" y="657" width="6" height="1" fill="#00aa00"/>
<rect x="369" y="658" width="6" height="2" fill="#a0ff00"/>
<rect x="369" y="660" width="6" height="1" fill="#00aa00"/>
<rect x="369" y="661" width="6" height="2" fill="#a0ff00"/>
<rect x="369" y="663" width="6" height="2" fill="#ffff00"/>
<rect x="369" y="665" width="6" height="2" fill="#ff7800"/>
<rect x="369" y="667" width="6" height="1" fill="#ff4600"/>
<rect x="369" y="668" width="6" height="3" fill="#ff7800"/>
<rect x="369" y="671" width="6" height="1" fill="#ff4600"/>
<rect x="369" y="672" width="6" height="2" fill="#ffaa00"/>
<rect x="369" y="674" width="6" height="1" fill="#ffff00"/>
<rect x="369" y="675" width="6" height="1" fill="#ff4600"/>
<rect x="369" y="676" width="6" height="2" fill="#ffff00"/>
<rect x="369" y="678" width="6" height="1" fill="#dc0000"/>
<rect x="369" y="679" width="6" height="1" fill="#ffff00"/>
<rect x="369" y="680" width="6" height="3" fill="#ffaa00"/>
<rect x="369" y="683" width="6" height="2" fill="#ffff00"/>
<rect x="369" y="685" width="6" height="1" fill="#ffaa00"/>
<rect x="369" y="686" width="6" height="4" fill="#ffff00"/>
<rect x="369" y="690" width="6" height="3" fill="#a0ff00"/>
<rect x="369" y="693" width="6" height="5" fill="#ffaa00"/>
<rect x="369" y="698" width="6" height="3" fill="#d700d7"/>
<rect x="373" y="642" width="6" height="4" fill="#00aa00"/>
<rect x="373" y="646" width="6" height="1" fill="#ffaa00"/>
<rect x="373" y="647" width="6" height="2" fill="#00c350"/>
<rect x="373" y="649" width="6" height="1" fill="#d700d7"/>
<rect x="365" y="679" width="4" height="3" fill="#ffaa00"/>
<rect x="365" y="682" width="4" height="1" fill="#a0ff00"/>
<rect x="365" y="683" width="4" height="2" fill="#d700d7"/>
<rect x="627" y="663" width="4" height="1" fill="#d700d7"/>
<rect x="627" y="664" width="4" height="7" fill="#cdff00"/>
<rect x="627" y="671" width="4" height="3" fill="#d700d7"/>
<rect x="631" y="662" width="4" height="2" fill="#ffff00"/>
<rect x="631" y="664" width="4" height="5" fill="#a0ff00"/>
<rect x="631" y="669" width="4" height="3" fill="#cdff00"/>
<rect x="631" y="672" width="4" height="3" fill="#960096"/>
<rect x="631" y="675" width="4" height="1" fill="#ffaa00"/>
<rect x="631" y="676" width="4" height="3" fill="#dc0000"/>
<rect x="635" y="662" width="6" height="7" fill="#a0ff00"/>
<rect x="635" y="669" width="6" height="3" fill="#cdff00"/>
<rect x="635" y="672" width="6" height="4" fill="#ffff00"/>
<rect x="635" y="676" width="6" height="2" fill="#ffaa00"/>
<rect x="635" y="678" width="6" height="4" fill="#ff4600"/>
<rect x="635" y="682" width="6" height="1" fill="#d700d7"/>
<rect x="635" y="684" width="6" height="2" fill="#ffff00"/>
<rect x="81" y="730" width="1" height="14" fill="#ff4600"/>
<rect x="82" y="730" width="6" height="6" fill="#d700d7"/>
<rect x="82" y="736" width="6" height="2" fill="#cdff00"/>
<rect x="82" y="738" width="6" height="3" fill="#d700d7"/>
<rect x="82" y="741" width="6" height="2" fill="#dc0000"/>
<rect x="82" y="743" width="6" height="1" fill="#d700d7"/>
<rect x="82" y="744" width="6" height="2" fill="#a0ff00"/>
<rect x="86" y="734" width="4" height="2" fill="#d700d7"/>
<rect x="86" y="736" width="4" height="4" fill="#ff4600"/>
<rect x="86" y="740" width="4" height="4" fill="#ffaa00"/>
<rect x="86" y="744" width="4" height="2" fill="#ff4600"/>
<rect x="90" y="734" width="6" height="3" fill="#d700d7"/>
<rect x="90" y="737" width="6" height="7" fill="#ffff00"/>
<rect x="96" y="737" width="7" height="1" fill="#d700d7"/>
<rect x="96" y="738" width="7" height="2" fill="#cdff00"/>
<rect x="96" y="740" width="7" height="3" fill="#ffaa00"/>
<rect x="96" y="743" width="7" height="1" fill="#ffff00"/>
<rect x="103" y="737" width="8" height="1" fill="#d700d7"/>
<rect x="103" y="738" width="8" height="2" fill="#00aa00"/>
<rect x="103" y="740" width="8" height="4" fill="#a0ff00"/>
<rect x="111" y="736" width="5" height="3" fill="#00aa00"/>
<rect x="111" y="739" width="5" height="5" fill="#ffff00"/>
<rect x="111" y="744" width="5" height="1" fill="#d700d7"/>
<rect x="116" y="733" width="4" height="1" fill="#d700d7"/>
<rect x="116" y="734" width="4" height="4" fill="#00aa00"/>
<rect x="116" y="738" width="4" height="6" fill="#a0ff00"/>
<rect x="116" y="744" width="4" height="1" fill="#d700d7"/>
<rect x="120" y="731" width="8" height="2" fill="#d700d7"/>
<rect x="120" y="733" width="8" height="5" fill="#00aa00"/>
<rect x="120" y="738" width="8" height="2" fill="#a0ff00"/>
<rect x="120" y="740" width="8" height="2" fill="#00aa00"/>
<rect x="120" y="742" width="8" height="2" fill="#ffff00"/>
<rect x="120" y="744" width="8" height="1" fill="#d700d7"/>
<rect x="128" y="727" width="5" height="2" fill="#d700d7"/>
<rect x="128" y="729" width="5" height="4" fill="#a0ff00"/>
<rect x="128" y="733" width="5" height="4" fill="#ffff00"/>
<rect x="128" y="737" width="5" height="4" fill="#ffaa00"/>
<rect x="128" y="741" width="5" height="3" fill="#a0ff00"/>
<rect x="128" y="744" width="5" height="1" fill="#d700d7"/>
<rect x="133" y="727" width="4" height="2" fill="#d700d7"/>
<rect x="133" y="729" width="4" height="7" fill="#00aa00"/>
<rect x="133" y="736" width="4" height="2" fill="#ffaa00"/>
<rect x="133" y="738" width="4" height="6" fill="#ffff00"/>
<rect x="133" y="744" width="4" height="1" fill="#dc0000"/>
<rect x="137" y="726" width="4" height="4" fill="#d700d7"/>
<rect x="137" y="730" width="4" height="2" fill="#dc0000"/>
<rect x="137" y="732" width="4" height="12" fill="#d700d7"/>
<rect x="137" y="744" width="4" height="1" fill="#a0ff00"/>
<rect x="141" y="723" width="6" height="1" fill="#ff4600"/>
<rect x="141" y="726" width="6" height="4" fill="#d700d7"/>
<rect x="141" y="730" width="6" height="4" fill="#ff4600"/>
<rect x="141" y="734" width="6" height="4" fill="#d700d7"/>
<rect x="141" y="738" width="6" height="2" fill="#ff4600"/>
<rect x="141" y="740" width="6" height="4" fill="#d700d7"/>
<rect x="141" y="744" width="6" height="1" fill="#a0ff00"/>
<rect x="147" y="734" width="4" height="2" fill="#d700d7"/>
<rect x="147" y="736" width="4" height="4" fill="#00aa00"/>
<rect x="147" y="740" width="4" height="4" fill="#a0ff00"/>
<rect x="151" y="736" width="7" height="3" fill="#a0ff00"/>
<rect x="151" y="739" width="7" height="5" fill="#ffff00"/>
<rect x="158" y="736" width="4" height="1" fill="#ffaa00"/>
<rect x="158" y="737" width="4" height="4" fill="#a0ff00"/>
<rect x="158" y="741" width="4" height="2" fill="#ffaa00"/>
<rect x="158" y="743" width="4" height="1" fill="#ffff00"/>
<rect x="162" y="734" width="10" height="2" fill="#d700d7"/>
<rect x="162" y="736" width="10" height="8" fill="#cdff00"/>
<rect x="162" y="744" width="10" height="1" fill="#d700d7"/>
<rect x="166" y="734" width="6" height="2" fill="#960096"/>
<rect x="172" y="737" width="6" height="7" fill="#cdff00"/>
<rect x="172" y="744" width="6" height="1" fill="#d700d7"/>
<rect x="177" y="737" width="8" height="2" fill="#d700d7"/>
<rect x="177" y="739" width="8" height="6" fill="#ffff00"/>
<rect x="177" y="745" width="8" height="1" fill="#a0ff00"/>
<rect x="185" y="738" width="15" height="2" fill="#d700d7"/>
<rect x="185" y="740" width="15" height="5" fill="#ffff00"/>
<rect x="185" y="745" width="15" height="1" fill="#a0ff00"/>
<rect x="200" y="738" width="13" height="3" fill="#d700d7"/>
<rect x="200" y="741" width="13" height="4" fill="#ffff00"/>
<rect x="200" y="745" width="13" height="1" fill="#a0ff00"/>
<rect x="213" y="737" width="8" height="3" fill="#d700d7"/>
<rect x="213" y="740" width="8" height="5" fill="#ffff00"/>
<rect x="213" y="745" width="8" height="1" fill="#a0ff00"/>
<rect x="221" y="736" width="9" height="2" fill="#d700d7"/>
<rect x="221" y="738" width="9" height="7" fill="#ffff00"/>
<rect x="221" y="745" width="9" height="1" fill="#a0ff00"/>
<rect x="230" y="734" width="4" height="2" fill="#d700d7"/>
<rect x="230" y="736" width="4" height="9" fill="#ffff00"/>
<rect x="230" y="745" width="4" height="1" fill="#a0ff00"/>
<rect x="234" y="733" width="4" height="2" fill="#d700d7"/>
<rect x="234" y="735" width="4" height="10" fill="#ffff00"/>
<rect x="234" y="745" width="4" height="1" fill="#a0ff00"/>
<rect x="238" y="731" width="5" height="3" fill="#d700d7"/>
<rect x="238" y="734" width="5" height="11" fill="#ffff00"/>
<rect x="238" y="745" width="5" height="1" fill="#a0ff00"/>
<rect x="243" y="733" width="5" height="2" fill="#d700d7"/>
<rect x="243" y="735" width="5" height="10" fill="#ffff00"/>
<rect x="243" y="745" width="5" height="1" fill="#a0ff00"/>
<rect x="248" y="734" width="7" height="2" fill="#d700d7"/>
<rect x="248" y="736" width="7" height="9" fill="#ffff00"/>
<rect x="248" y="745" width="7" height="1" fill="#a0ff00"/>
<rect x="255" y="736" width="8" height="2" fill="#d700d7"/>
<rect x="255" y="738" width="8" height="7" fill="#ffff00"/>
<rect x="255" y="745" width="8" height="1" fill="#a0ff00"/>
<rect x="263" y="737" width="6" height="2" fill="#d700d7"/>
<rect x="263" y="739" width="6" height="6" fill="#ffff00"/>
<rect x="263" y="745" width="6" height="1" fill="#a0ff00"/>
<rect x="269" y="738" width="4" height="3" fill="#d700d7"/>
<rect x="269" y="741" width="4" height="4" fill="#ffff00"/>
<rect x="269" y="745" width="4" height="1" fill="#a0ff00"/>
<rect x="273" y="740" width="12" height="3" fill="#d700d7"/>
<rect x="273" y="743" width="12" height="2" fill="#ffff00"/>
<rect x="273" y="745" width="12" height="1" fill="#a0ff00"/>
<rect x="285" y="738" width="5" height="2" fill="#d700d7"/>
<rect x="285" y="740" width="5" height="5" fill="#ffff00"/>
<rect x="285" y="745" width="5" height="1" fill="#a0ff00"/>
<rect x="179" y="740" width="13" height="3" fill="#a0ff00"/>
<rect x="209" y="740" width="9" height="3" fill="#a0ff00"/>
<rect x="255" y="737" width="8" height="3" fill="#a0ff00"/>
<rect x="200" y="738" width="9" height="2" fill="#ff7800"/>
<rect x="218" y="737" width="6" height="3" fill="#ffaa00"/>
<rect x="242" y="737" width="12" height="6" fill="#ffaa00"/>
<rect x="263" y="739" width="5" height="2" fill="#ff4600"/>
<rect x="275" y="740" width="10" height="2" fill="#ff4600"/>
<rect x="234" y="734" width="14" height="3" fill="#dc0000"/>
<rect x="192" y="743" width="33" height="2" fill="#d700d7"/>
<rect x="225" y="743" width="5" height="1" fill="#dc0000"/>
<rect x="179" y="743" width="4" height="1" fill="#ff7800"/>
<rect x="290" y="738" width="11" height="6" fill="#ffff00"/>
<rect x="301" y="737" width="13" height="7" fill="#ffff00"/>
<rect x="314" y="736" width="9" height="8" fill="#ffff00"/>
<rect x="323" y="737" width="5" height="7" fill="#ffff00"/>
<rect x="328" y="738" width="4" height="6" fill="#ffff00"/>
<rect x="332" y="741" width="9" height="3" fill="#ffff00"/>
<rect x="344" y="742" width="5" height="2" fill="#ffff00"/>
<rect x="280" y="740" width="10" height="4" fill="#ffaa00"/>
<rect x="280" y="740" width="5" height="1" fill="#dc0000"/>
<rect x="285" y="738" width="4" height="2" fill="#d700d7"/>
<rect x="289" y="738" width="4" height="2" fill="#ffaa00"/>
<rect x="293" y="738" width="4" height="1" fill="#dc0000"/>
<rect x="297" y="740" width="4" height="3" fill="#d700d7"/>
<rect x="301" y="737" width="5" height="1" fill="#d700d7"/>
<rect x="301" y="738" width="5" height="5" fill="#dc0000"/>
<rect x="306" y="737" width="4" height="6" fill="#ff7800"/>
<rect x="310" y="737" width="4" height="1" fill="#dc0000"/>
<rect x="314" y="736" width="14" height="1" fill="#ffaa00"/>
<rect x="332" y="741" width="3" height="2" fill="#ffaa00"/>
<rect x="335" y="741" width="6" height="2" fill="#d700d7"/>
<rect x="344" y="742" width="5" height="1" fill="#ffaa00"/>
<rect x="289" y="741" width="8" height="2" fill="#a0ff00"/>
<rect x="295" y="745" width="36" height="1" fill="#50d700"/>
<rect x="331" y="745" width="6" height="1" fill="#ffaa00"/>
<rect x="293" y="743" width="9" height="2" fill="#d700d7"/>
<rect x="400" y="744" width="3" height="2" fill="#ffff00"/>
<rect x="403" y="744" width="5" height="2" fill="#50d700"/>
<rect x="432" y="744" width="4" height="2" fill="#00aa00"/>
<rect x="440" y="744" width="6" height="2" fill="#ffff00"/>
<rect x="483" y="744" width="29" height="2" fill="#50d700"/>
<rect x="516" y="744" width="5" height="2" fill="#d700d7"/>
<rect x="525" y="742" width="6" height="2" fill="#d700d7"/>
<rect x="538" y="742" width="6" height="2" fill="#a0ff00"/>
<rect x="546" y="744" width="13" height="2" fill="#00aa00"/>
<rect x="559" y="744" width="4" height="2" fill="#ffff00"/>
<rect x="563" y="744" width="5" height="2" fill="#d700d7"/>
<rect x="568" y="744" width="12" height="2" fill="#a0ff00"/>
<rect x="570" y="745" width="10" height="1" fill="#a0ff00"/>
<rect x="580" y="745" width="4" height="1" fill="#d700d7"/>
<rect x="584" y="745" width="26" height="1" fill="#a0ff00"/>
<rect x="627" y="745" width="60" height="1" fill="#ffff00"/>
<rect x="580" y="742" width="4" height="2" fill="#d700d7"/>
<rect x="584" y="742" width="5" height="2" fill="#ff4600"/>
<rect x="589" y="742" width="8" height="2" fill="#ffaa00"/>
<rect x="597" y="742" width="13" height="2" fill="#d700d7"/>
<rect x="610" y="740" width="4" height="1" fill="#d700d7"/>
<rect x="610" y="741" width="4" height="3" fill="#a0ff00"/>
<rect x="614" y="740" width="4" height="1" fill="#ffff00"/>
<rect x="614" y="741" width="4" height="3" fill="#d700d7"/>
<rect x="618" y="742" width="4" height="2" fill="#d700d7"/>
<rect x="622" y="741" width="5" height="3" fill="#d700d7"/>
<rect x="627" y="738" width="8" height="6" fill="#d700d7"/>
<rect x="635" y="738" width="4" height="2" fill="#d700d7"/>
<rect x="635" y="740" width="4" height="4" fill="#a0ff00"/>
<rect x="639" y="736" width="4" height="4" fill="#d700d7"/>
<rect x="639" y="740" width="4" height="4" fill="#a0ff00"/>
<rect x="643" y="734" width="6" height="2" fill="#d700d7"/>
<rect x="643" y="736" width="6" height="1" fill="#ffff00"/>
<rect x="643" y="737" width="6" height="3" fill="#d700d7"/>
<rect x="643" y="740" width="6" height="3" fill="#dc0000"/>
<rect x="643" y="743" width="6" height="1" fill="#ffff00"/>
<rect x="649" y="736" width="7" height="1" fill="#ffff00"/>
<rect x="649" y="737" width="7" height="3" fill="#a0ff00"/>
<rect x="649" y="740" width="7" height="3" fill="#ff7800"/>
<rect x="649" y="743" width="7" height="1" fill="#ffff00"/>
<rect x="656" y="736" width="4" height="1" fill="#ffaa00"/>
<rect x="656" y="737" width="4" height="6" fill="#a0ff00"/>
<rect x="656" y="743" width="4" height="1" fill="#ffff00"/>
<rect x="660" y="736" width="10" height="1" fill="#d700d7"/>
<rect x="660" y="737" width="10" height="3" fill="#a0ff00"/>
<rect x="660" y="740" width="10" height="3" fill="#ffff00"/>
<rect x="660" y="743" width="10" height="1" fill="#cdff00"/>
<rect x="670" y="737" width="3" height="1" fill="#d700d7"/>
<rect x="670" y="738" width="3" height="2" fill="#ffaa00"/>
<rect x="670" y="740" width="3" height="1" fill="#ffff00"/>
<rect x="670" y="740" width="3" height="3" fill="#ffaa00"/>
<rect x="670" y="743" width="3" height="1" fill="#ffff00"/>
<rect x="673" y="734" width="6" height="2" fill="#d700d7"/>
<rect x="673" y="737" width="6" height="3" fill="#d700d7"/>
<rect x="673" y="740" width="6" height="3" fill="#ffaa00"/>
<rect x="673" y="743" width="6" height="1" fill="#ffff00"/>
<rect x="679" y="734" width="8" height="3" fill="#d700d7"/>
<rect x="679" y="738" width="8" height="2" fill="#d700d7"/>
<rect x="679" y="740" width="8" height="4" fill="#ffff00"/>
<rect x="93" y="36" width="9" height="1" fill="#000000"/>
<rect x="97" y="37" width="9" height="1" fill="#000000"/>
<rect x="152" y="68" width="9" height="1" fill="#000000"/>
<rect x="148" y="81" width="9" height="1" fill="#000000"/>
<rect x="89" y="99" width="9" height="1" fill="#000000"/>
<rect x="81" y="105" width="4" height="1" fill="#000000"/>
<rect x="81" y="106" width="8" height="1" fill="#000000"/>
<rect x="84" y="109" width="9" height="1" fill="#000000"/>
<rect x="144" y="121" width="9" height="1" fill="#000000"/>
<rect x="101" y="128" width="9" height="1" fill="#000000"/>
<rect x="106" y="128" width="9" height="1" fill="#000000"/>
<rect x="110" y="130" width="9" height="1" fill="#000000"/>
<rect x="139" y="129" width="9" height="1" fill="#000000"/>
<rect x="135" y="132" width="9" height="1" fill="#000000"/>
<rect x="114" y="135" width="9" height="1" fill="#000000"/>
<rect x="118" y="160" width="9" height="1" fill="#000000"/>
<rect x="122" y="161" width="9" height="1" fill="#000000"/>
<rect x="127" y="164" width="9" height="1" fill="#000000"/>
<rect x="131" y="170" width="9" height="1" fill="#000000"/>
<rect x="342" y="33" width="9" height="1" fill="#000000"/>
<rect x="338" y="37" width="9" height="1" fill="#000000"/>
<rect x="345" y="38" width="10" height="1" fill="#000000"/>
<rect x="334" y="41" width="9" height="1" fill="#000000"/>
<rect x="329" y="44" width="9" height="1" fill="#000000"/>
<rect x="350" y="45" width="9" height="1" fill="#000000"/>
<rect x="355" y="53" width="9" height="1" fill="#000000"/>
<rect x="308" y="54" width="18" height="1" fill="#000000"/>
<rect x="312" y="53" width="9" height="1" fill="#000000"/>
<rect x="325" y="57" width="9" height="1" fill="#000000"/>
<rect x="321" y="59" width="9" height="1" fill="#000000"/>
<rect x="376" y="75" width="9" height="1" fill="#000000"/>
<rect x="304" y="89" width="9" height="1" fill="#000000"/>
<rect x="300" y="94" width="9" height="1" fill="#000000"/>
<rect x="291" y="95" width="14" height="1" fill="#000000"/>
<rect x="359" y="97" width="9" height="1" fill="#000000"/>
<rect x="372" y="107" width="9" height="1" fill="#000000"/>
<rect x="367" y="108" width="9" height="1" fill="#000000"/>
<rect x="363" y="144" width="9" height="1" fill="#000000"/>
<rect x="435" y="29" width="9" height="1" fill="#000000"/>
<rect x="405" y="65" width="9" height="1" fill="#000000"/>
<rect x="418" y="70" width="22" height="1" fill="#000000"/>
<rect x="410" y="72" width="13" height="1" fill="#000000"/>
<rect x="448" y="151" width="25" height="1" fill="#000000"/>
<rect x="452" y="152" width="5" height="1" fill="#000000"/>
<rect x="460" y="152" width="5" height="1" fill="#000000"/>
<rect x="469" y="148" width="26" height="1" fill="#000000"/>
<rect x="490" y="144" width="17" height="1" fill="#000000"/>
<rect x="494" y="145" width="6" height="1" fill="#000000"/>
<rect x="502" y="146" width="14" height="1" fill="#000000"/>
<rect x="511" y="145" width="13" height="1" fill="#000000"/>
<rect x="519" y="144" width="9" height="1" fill="#000000"/>
<rect x="524" y="142" width="9" height="1" fill="#000000"/>
<rect x="528" y="140" width="10" height="1" fill="#000000"/>
<rect x="532" y="139" width="13" height="1" fill="#000000"/>
<rect x="540" y="141" width="9" height="1" fill="#000000"/>
<rect x="545" y="143" width="13" height="1" fill="#000000"/>
<rect x="553" y="144" width="22" height="1" fill="#000000"/>
<rect x="553" y="143" width="4" height="1" fill="#000000"/>
<rect x="570" y="146" width="17" height="1" fill="#000000"/>
<rect x="583" y="140" width="9" height="1" fill="#000000"/>
<rect x="587" y="136" width="9" height="1" fill="#000000"/>
<rect x="591" y="137" width="9" height="1" fill="#000000"/>
<rect x="595" y="139" width="18" height="1" fill="#000000"/>
<rect x="600" y="140" width="8" height="1" fill="#000000"/>
<rect x="287" y="135" width="9" height="1" fill="#000000"/>
<rect x="270" y="144" width="9" height="1" fill="#000000"/>
<rect x="274" y="143" width="14" height="1" fill="#000000"/>
<rect x="283" y="142" width="9" height="1" fill="#000000"/>
<rect x="266" y="96" width="9" height="1" fill="#000000"/>
<rect x="608" y="136" width="9" height="1" fill="#000000"/>
<rect x="612" y="133" width="9" height="1" fill="#000000"/>
<rect x="616" y="129" width="15" height="1" fill="#000000"/>
<rect x="625" y="128" width="21" height="1" fill="#000000"/>
<rect x="629" y="127" width="13" height="1" fill="#000000"/>
<rect x="646" y="129" width="9" height="1" fill="#000000"/>
<rect x="93" y="303" width="9" height="1" fill="#000000"/>
<rect x="97" y="304" width="9" height="1" fill="#000000"/>
<rect x="152" y="335" width="9" height="1" fill="#000000"/>
<rect x="148" y="348" width="9" height="1" fill="#000000"/>
<rect x="89" y="366" width="9" height="1" fill="#000000"/>
<rect x="81" y="372" width="4" height="1" fill="#000000"/>
<rect x="81" y="373" width="8" height="1" fill="#000000"/>
<rect x="84" y="375" width="9" height="1" fill="#000000"/>
<rect x="144" y="388" width="9" height="1" fill="#000000"/>
<rect x="101" y="394" width="9" height="1" fill="#000000"/>
<rect x="106" y="395" width="9" height="1" fill="#000000"/>
<rect x="110" y="397" width="9" height="1" fill="#000000"/>
<rect x="139" y="396" width="9" height="1" fill="#000000"/>
<rect x="135" y="399" width="9" height="1" fill="#000000"/>
<rect x="114" y="402" width="9" height="1" fill="#000000"/>
<rect x="118" y="426" width="9" height="1" fill="#000000"/>
<rect x="122" y="427" width="9" height="1" fill="#000000"/>
<rect x="127" y="431" width="9" height="1" fill="#000000"/>
<rect x="131" y="437" width="9" height="1" fill="#000000"/>
<rect x="342" y="299" width="9" height="1" fill="#000000"/>
<rect x="338" y="303" width="9" height="1" fill="#000000"/>
<rect x="345" y="305" width="10" height="1" fill="#000000"/>
<rect x="334" y="308" width="9" height="1" fill="#000000"/>
<rect x="329" y="310" width="9" height="1" fill="#000000"/>
<rect x="350" y="312" width="9" height="1" fill="#000000"/>
<rect x="355" y="320" width="9" height="1" fill="#000000"/>
<rect x="308" y="320" width="18" height="1" fill="#000000"/>
<rect x="312" y="319" width="9" height="1" fill="#000000"/>
<rect x="325" y="324" width="9" height="1" fill="#000000"/>
<rect x="321" y="326" width="9" height="1" fill="#000000"/>
<rect x="376" y="342" width="9" height="1" fill="#000000"/>
<rect x="304" y="356" width="9" height="1" fill="#000000"/>
<rect x="300" y="360" width="9" height="1" fill="#000000"/>
<rect x="291" y="361" width="14" height="1" fill="#000000"/>
<rect x="359" y="364" width="9" height="1" fill="#000000"/>
<rect x="372" y="374" width="9" height="1" fill="#000000"/>
<rect x="367" y="375" width="9" height="1" fill="#000000"/>
<rect x="363" y="411" width="9" height="1" fill="#000000"/>
<rect x="435" y="296" width="9" height="1" fill="#000000"/>
<rect x="405" y="332" width="9" height="1" fill="#000000"/>
<rect x="418" y="337" width="22" height="1" fill="#000000"/>
<rect x="410" y="339" width="13" height="1" fill="#000000"/>
<rect x="448" y="418" width="25" height="1" fill="#000000"/>
<rect x="452" y="419" width="5" height="1" fill="#000000"/>
<rect x="460" y="419" width="5" height="1" fill="#000000"/>
<rect x="469" y="415" width="26" height="1" fill="#000000"/>
<rect x="490" y="411" width="17" height="1" fill="#000000"/>
<rect x="494" y="412" width="6" height="1" fill="#000000"/>
<rect x="502" y="413" width="14" height="1" fill="#000000"/>
<rect x="511" y="412" width="13" height="1" fill="#000000"/>
<rect x="519" y="411" width="9" height="1" fill="#000000"/>
<rect x="524" y="409" width="9" height="1" fill="#000000"/>
<rect x="528" y="407" width="10" height="1" fill="#000000"/>
<rect x="532" y="406" width="13" height="1" fill="#000000"/>
<rect x="540" y="408" width="9" height="1" fill="#000000"/>
<rect x="545" y="410" width="13" height="1" fill="#000000"/>
<rect x="553" y="411" width="22" height="1" fill="#000000"/>
<rect x="553" y="410" width="4" height="1" fill="#000000"/>
<rect x="570" y="413" width="17" height="1" fill="#000000"/>
<rect x="583" y="407" width="9" height="1" fill="#000000"/>
<rect x="587" y="403" width="9" height="1" fill="#000000"/>
<rect x="591" y="404" width="9" height="1" fill="#000000"/>
<rect x="595" y="406" width="18" height="1" fill="#000000"/>
<rect x="600" y="407" width="8" height="1" fill="#000000"/>
<rect x="287" y="402" width="9" height="1" fill="#000000"/>
<rect x="270" y="411" width="9" height="1" fill="#000000"/>
<rect x="274" y="410" width="14" height="1" fill="#000000"/>
<rect x="283" y="409" width="9" height="1" fill="#000000"/>
<rect x="266" y="363" width="9" height="1" fill="#000000"/>
<rect x="608" y="403" width="9" height="1" fill="#000000"/>
<rect x="612" y="400" width="9" height="1" fill="#000000"/>
<rect x="616" y="396" width="15" height="1" fill="#000000"/>
<rect x="625" y="395" width="21" height="1" fill="#000000"/>
<rect x="629" y="394" width="13" height="1" fill="#000000"/>
<rect x="646" y="396" width="9" height="1" fill="#000000"/>
<rect x="93" y="569" width="9" height="1" fill="#000000"/>
<rect x="97" y="570" width="9" height="1" fill="#000000"/>
<rect x="152" y="601" width="9" height="1" fill="#000000"/>
<rect x="148" y="614" width="9" height="1" fill="#000000"/>
<rect x="89" y="632" width="9" height="1" fill="#000000"/>
<rect x="81" y="638" width="4" height="1" fill="#000000"/>
<rect x="81" y="639" width="8" height="1" fill="#000000"/>
<rect x="84" y="642" width="9" height="1" fill="#000000"/>
<rect x="144" y="655" width="9" height="1" fill="#000000"/>
<rect x="101" y="661" width="9" height="1" fill="#000000"/>
<rect x="106" y="661" width="9" height="1" fill="#000000"/>
<rect x="110" y="664" width="9" height="1" fill="#000000"/>
<rect x="139" y="662" width="9" height="1" fill="#000000"/>
<rect x="135" y="666" width="9" height="1" fill="#000000"/>
<rect x="114" y="668" width="9" height="1" fill="#000000"/>
<rect x="118" y="693" width="9" height="1" fill="#000000"/>
<rect x="122" y="694" width="9" height="1" fill="#000000"/>
<rect x="127" y="697" width="9" height="1" fill="#000000"/>
<rect x="131" y="704" width="9" height="1" fill="#000000"/>
<rect x="342" y="566" width="9" height="1" fill="#000000"/>
<rect x="338" y="570" width="9" height="1" fill="#000000"/>
<rect x="345" y="572" width="10" height="1" fill="#000000"/>
<rect x="334" y="574" width="9" height="1" fill="#000000"/>
<rect x="329" y="577" width="9" height="1" fill="#000000"/>
<rect x="350" y="578" width="9" height="1" fill="#000000"/>
<rect x="355" y="586" width="9" height="1" fill="#000000"/>
<rect x="308" y="587" width="18" height="1" fill="#000000"/>
<rect x="312" y="586" width="9" height="1" fill="#000000"/>
<rect x="325" y="591" width="9" height="1" fill="#000000"/>
<rect x="321" y="592" width="9" height="1" fill="#000000"/>
<rect x="376" y="608" width="9" height="1" fill="#000000"/>
<rect x="304" y="623" width="9" height="1" fill="#000000"/>
<rect x="300" y="627" width="9" height="1" fill="#000000"/>
<rect x="291" y="628" width="14" height="1" fill="#000000"/>
<rect x="359" y="630" width="9" height="1" fill="#000000"/>
<rect x="372" y="641" width="9" height="1" fill="#000000"/>
<rect x="367" y="642" width="9" height="1" fill="#000000"/>
<rect x="363" y="677" width="9" height="1" fill="#000000"/>
<rect x="435" y="562" width="9" height="1" fill="#000000"/>
<rect x="405" y="598" width="9" height="1" fill="#000000"/>
<rect x="418" y="603" width="22" height="1" fill="#000000"/>
<rect x="410" y="605" width="13" height="1" fill="#000000"/>
<rect x="448" y="684" width="25" height="1" fill="#000000"/>
<rect x="452" y="685" width="5" height="1" fill="#000000"/>
<rect x="460" y="685" width="5" height="1" fill="#000000"/>
<rect x="469" y="681" width="26" height="1" fill="#000000"/>
<rect x="490" y="677" width="17" height="1" fill="#000000"/>
<rect x="494" y="678" width="6" height="1" fill="#000000"/>
<rect x="502" y="679" width="14" height="1" fill="#000000"/>
<rect x="511" y="678" width="13" height="1" fill="#000000"/>
<rect x="519" y="677" width="9" height="1" fill="#000000"/>
<rect x="524" y="675" width="9" height="1" fill="#000000"/>
<rect x="528" y="673" width="10" height="1" fill="#000000"/>
<rect x="532" y="672" width="13" height="1" fill="#000000"/>
<rect x="540" y="674" width="9" height="1" fill="#000000"/>
<rect x="545" y="676" width="13" height="1" fill="#000000"/>
<rect x="553" y="677" width="22" height="1" fill="#000000"/>
<rect x="553" y="676" width="4" height="1" fill="#000000"/>
<rect x="570" y="679" width="17" height="1" fill="#000000"/>
<rect x="583" y="673" width="9" height="1" fill="#000000"/>
<rect x="587" y="669" width="9" height="1" fill="#000000"/>
<rect x="591" y="670" width="9" height="1" fill="#000000"/>
<rect x="595" y="672" width="18" height="1" fill="#000000"/>
<rect x="600" y="673" width="8" height="1" fill="#000000"/>
<rect x="287" y="668" width="9" height="1" fill="#000000"/>
<rect x="270" y="677" width="9" height="1" fill="#000000"/>
<rect x="274" y="676" width="14" height="1" fill="#000000"/>
<rect x="283" y="675" width="9" height="1" fill="#000000"/>
<rect x="266" y="629" width="9" height="1" fill="#000000"/>
<rect x="608" y="669" width="9" height="1" fill="#000000"/>
<rect x="612" y="666" width="9" height="1" fill="#000000"/>
<rect x="616" y="662" width="15" height="1" fill="#000000"/>
<rect x="625" y="661" width="21" height="1" fill="#000000"/>
<rect x="629" y="660" width="13" height="1" fill="#000000"/>
<rect x="646" y="662" width="9" height="1" fill="#000000"/>
<rect x="80" y="28" width="609" height="1" fill="#000"/>
<rect x="80" y="212" width="609" height="1" fill="#000"/>
<rect x="80" y="28" width="1" height="185" fill="#000"/>
<rect x="688" y="28" width="1" height="193" fill="#000"/>
<rect x="62" y="28" width="19" height="1" fill="#000"/>
<rect x="71" y="33" width="10" height="1" fill="#000"/>
<rect x="71" y="37" width="10" height="1" fill="#000"/>
<rect x="71" y="42" width="10" height="1" fill="#000"/>
<rect x="71" y="46" width="10" height="1" fill="#000"/>
<rect x="71" y="51" width="10" height="1" fill="#000"/>
<rect x="71" y="56" width="10" height="1" fill="#000"/>
<rect x="71" y="60" width="10" height="1" fill="#000"/>
<rect x="71" y="65" width="10" height="1" fill="#000"/>
<rect x="71" y="69" width="10" height="1" fill="#000"/>
<rect x="62" y="74" width="19" height="1" fill="#000"/>
<rect x="71" y="79" width="10" height="1" fill="#000"/>
<rect x="71" y="83" width="10" height="1" fill="#000"/>
<rect x="71" y="88" width="10" height="1" fill="#000"/>
<rect x="71" y="92" width="10" height="1" fill="#000"/>
<rect x="71" y="97" width="10" height="1" fill="#000"/>
<rect x="71" y="102" width="10" height="1" fill="#000"/>
<rect x="71" y="106" width="10" height="1" fill="#000"/>
<rect x="71" y="111" width="10" height="1" fill="#000"/>
<rect x="71" y="115" width="10" height="1" fill="#000"/>
<rect x="62" y="120" width="19" height="1" fill="#000"/>
<rect x="71" y="125" width="10" height="1" fill="#000"/>
<rect x="71" y="129" width="10" height="1" fill="#000"/>
<rect x="71" y="134" width="10" height="1" fill="#000"/>
<rect x="71" y="138" width="10" height="1" fill="#000"/>
<rect x="71" y="143" width="10" height="1" fill="#000"/>
<rect x="71" y="148" width="10" height="1" fill="#000"/>
<rect x="71" y="152" width="10" height="1" fill="#000"/>
<rect x="71" y="157" width="10" height="1" fill="#000"/>
<rect x="71" y="161" width="10" height="1" fill="#000"/>
<rect x="62" y="166" width="19" height="1" fill="#000"/>
<rect x="71" y="171" width="10" height="1" fill="#000"/>
<rect x="71" y="175" width="10" height="1" fill="#000"/>
<rect x="71" y="180" width="10" height="1" fill="#000"/>
<rect x="71" y="184" width="10" height="1" fill="#000"/>
<rect x="71" y="189" width="10" height="1" fill="#000"/>
<rect x="71" y="194" width="10" height="1" fill="#000"/>
<rect x="71" y="198" width="10" height="1" fill="#000"/>
<rect x="71" y="203" width="10" height="1" fill="#000"/>
<rect x="71" y="207" width="10" height="1" fill="#000"/>
<rect x="62" y="212" width="19" height="1" fill="#000"/>
<rect x="80" y="212" width="1" height="9" fill="#000"/>
<rect x="105" y="212" width="1" height="5" fill="#000"/>
<rect x="131" y="212" width="1" height="5" fill="#000"/>
<rect x="156" y="212" width="1" height="5" fill="#000"/>
<rect x="181" y="212" width="1" height="9" fill="#000"/>
<rect x="207" y="212" width="1" height="5" fill="#000"/>
<rect x="232" y="212" width="1" height="5" fill="#000"/>
<rect x="257" y="212" width="1" height="5" fill="#000"/>
<rect x="283" y="212" width="1" height="9" fill="#000"/>
<rect x="308" y="212" width="1" height="5" fill="#000"/>
<rect x="333" y="212" width="1" height="5" fill="#000"/>
<rect x="359" y="212" width="1" height="5" fill="#000"/>
<rect x="384" y="212" width="1" height="9" fill="#000"/>
<rect x="409" y="212" width="1" height="5" fill="#000"/>
<rect x="435" y="212" width="1" height="5" fill="#000"/>
<rect x="460" y="212" width="1" height="5" fill="#000"/>
<rect x="485" y="212" width="1" height="9" fill="#000"/>
<rect x="511" y="212" width="1" height="5" fill="#000"/>
<rect x="536" y="212" width="1" height="5" fill="#000"/>
<rect x="561" y="212" width="1" height="5" fill="#000"/>
<rect x="587" y="212" width="1" height="9" fill="#000"/>
<rect x="612" y="212" width="1" height="5" fill="#000"/>
<rect x="637" y="212" width="1" height="5" fill="#000"/>
<rect x="663" y="212" width="1" height="5" fill="#000"/>
<rect x="688" y="212" width="1" height="9" fill="#000"/>
<rect x="80" y="295" width="609" height="1" fill="#000"/>
<rect x="80" y="479" width="609" height="1" fill="#000"/>
<rect x="80" y="295" width="1" height="185" fill="#000"/>
<rect x="688" y="295" width="1" height="193" fill="#000"/>
<rect x="62" y="295" width="19" height="1" fill="#000"/>
<rect x="71" y="300" width="10" height="1" fill="#000"/>
<rect x="71" y="304" width="10" height="1" fill="#000"/>
<rect x="71" y="309" width="10" height="1" fill="#000"/>
<rect x="71" y="313" width="10" height="1" fill="#000"/>
<rect x="71" y="318" width="10" height="1" fill="#000"/>
<rect x="71" y="323" width="10" height="1" fill="#000"/>
<rect x="71" y="327" width="10" height="1" fill="#000"/>
<rect x="71" y="332" width="10" height="1" fill="#000"/>
<rect x="71" y="336" width="10" height="1" fill="#000"/>
<rect x="62" y="341" width="19" height="1" fill="#000"/>
<rect x="71" y="346" width="10" height="1" fill="#000"/>
<rect x="71" y="350" width="10" height="1" fill="#000"/>
<rect x="71" y="355" width="10" height="1" fill="#000"/>
<rect x="71" y="359" width="10" height="1" fill="#000"/>
<rect x="71" y="364" width="10" height="1" fill="#000"/>
<rect x="71" y="369" width="10" height="1" fill="#000"/>
<rect x="71" y="373" width="10" height="1" fill="#000"/>
<rect x="71" y="378" width="10" height="1" fill="#000"/>
<rect x="71" y="382" width="10" height="1" fill="#000"/>
<rect x="62" y="387" width="19" height="1" fill="#000"/>
<rect x="71" y="392" width="10" height="1" fill="#000"/>
<rect x="71" y="396" width="10" height="1" fill="#000"/>
<rect x="71" y="401" width="10" height="1" fill="#000"/>
<rect x="71" y="405" width="10" height="1" fill="#000"/>
<rect x="71" y="410" width="10" height="1" fill="#000"/>
<rect x="71" y="415" width="10" height="1" fill="#000"/>
<rect x="71" y="419" width="10" height="1" fill="#000"/>
<rect x="71" y="424" width="10" height="1" fill="#000"/>
<rect x="71" y="428" width="10" height="1" fill="#000"/>
<rect x="62" y="433" width="19" height="1" fill="#000"/>
<rect x="71" y="438" width="10" height="1" fill="#000"/>
<rect x="71" y="442" width="10" height="1" fill="#000"/>
<rect x="71" y="447" width="10" height="1" fill="#000"/>
<rect x="71" y="451" width="10" height="1" fill="#000"/>
<rect x="71" y="456" width="10" height="1" fill="#000"/>
<rect x="71" y="461" width="10" height="1" fill="#000"/>
<rect x="71" y="465" width="10" height="1" fill="#000"/>
<rect x="71" y="470" width="10" height="1" fill="#000"/>
<rect x="71" y="474" width="10" height="1" fill="#000"/>
<rect x="62" y="479" width="19" height="1" fill="#000"/>
<rect x="80" y="479" width="1" height="9" fill="#000"/>
<rect x="105" y="479" width="1" height="5" fill="#000"/>
<rect x="131" y="479" width="1" height="5" fill="#000"/>
<rect x="156" y="479" width="1" height="5" fill="#000"/>
<rect x="181" y="479" width="1" height="9" fill="#000"/>
<rect x="207" y="479" width="1" height="5" fill="#000"/>
<rect x="232" y="479" width="1" height="5" fill="#000"/>
<rect x="257" y="479" width="1" height="5" fill="#000"/>
<rect x="283" y="479" width="1" height="9" fill="#000"/>
<rect x="308" y="479" width="1" height="5" fill="#000"/>
<rect x="333" y="479" width="1" height="5" fill="#000"/>
<rect x="359" y="479" width="1" height="5" fill="#000"/>
<rect x="384" y="479" width="1" height="9" fill="#000"/>
<rect x="409" y="479" width="1" height="5" fill="#000"/>
<rect x="435" y="479" width="1" height="5" fill="#000"/>
<rect x="460" y="479" width="1" height="5" fill="#000"/>
<rect x="485" y="479" width="1" height="9" fill="#000"/>
<rect x="511" y="479" width="1" height="5" fill="#000"/>
<rect x="536" y="479" width="1" height="5" fill="#000"/>
<rect x="561" y="479" width="1" height="5" fill="#000"/>
<rect x="587" y="479" width="1" height="9" fill="#000"/>
<rect x="612" y="479" width="1" height="5" fill="#000"/>
<rect x="637" y="479" width="1" height="5" fill="#000"/>
<rect x="663" y="479" width="1" height="5" fill="#000"/>
<rect x="688" y="479" width="1" height="9" fill="#000"/>
<rect x="80" y="562" width="609" height="1" fill="#000"/>
<rect x="80" y="746" width="609" height="1" fill="#000"/>
<rect x="80" y="562" width="1" height="185" fill="#000"/>
<rect x="688" y="562" width="1" height="193" fill="#000"/>
<rect x="62" y="562" width="19" height="1" fill="#000"/>
<rect x="71" y="567" width="10" height="1" fill="#000"/>
<rect x="71" y="571" width="10" height="1" fill="#000"/>
<rect x="71" y="576" width="10" height="1" fill="#000"/>
<rect x="71" y="580" width="10" height="1" fill="#000"/>
<rect x="71" y="585" width="10" height="1" fill="#000"/>
<rect x="71" y="590" width="10" height="1" fill="#000"/>
<rect x="71" y="594" width="10" height="1" fill="#000"/>
<rect x="71" y="599" width="10" height="1" fill="#000"/>
<rect x="71" y="603" width="10" height="1" fill="#000"/>
<rect x="62" y="608" width="19" height="1" fill="#000"/>
<rect x="71" y="613" width="10" height="1" fill="#000"/>
<rect x="71" y="617" width="10" height="1" fill="#000"/>
<rect x="71" y="622" width="10" height="1" fill="#000"/>
<rect x="71" y="626" width="10" height="1" fill="#000"/>
<rect x="71" y="631" width="10" height="1" fill="#000"/>
<rect x="71" y="636" width="10" height="1" fill="#000"/>
<rect x="71" y="640" width="10" height="1" fill="#000"/>
<rect x="71" y="645" width="10" height="1" fill="#000"/>
<rect x="71" y="649" width="10" height="1" fill="#000"/>
<rect x="62" y="654" width="19" height="1" fill="#000"/>
<rect x="71" y="659" width="10" height="1" fill="#000"/>
<rect x="71" y="663" width="10" height="1" fill="#000"/>
<rect x="71" y="668" width="10" height="1" fill="#000"/>
<rect x="71" y="672" width="10" height="1" fill="#000"/>
<rect x="71" y="677" width="10" height="1" fill="#000"/>
<rect x="71" y="682" width="10" height="1" fill="#000"/>
<rect x="71" y="686" width="10" height="1" fill="#000"/>
<rect x="71" y="691" width="10" height="1" fill="#000"/>
<rect x="71" y="695" width="10" height="1" fill="#000"/>
<rect x="62" y="700" width="19" height="1" fill="#000"/>
<rect x="71" y="705" width="10" height="1" fill="#000"/>
<rect x="71" y="709" width="10" height="1" fill="#000"/>
<rect x="71" y="714" width="10" height="1" fill="#000"/>
<rect x="71" y="718" width="10" height="1" fill="#000"/>
<rect x="71" y="723" width="10" height="1" fill="#000"/>
<rect x="71" y="728" width="10" height="1" fill="#000"/>
<rect x="71" y="732" width="10" height="1" fill="#000"/>
<rect x="71" y="737" width="10" height="1" fill="#000"/>
<rect x="71" y="741" width="10" height="1" fill="#000"/>
<rect x="62" y="746" width="19" height="1" fill="#000"/>
<rect x="80" y="746" width="1" height="9" fill="#000"/>
<rect x="105" y="746" width="1" height="5" fill="#000"/>
<rect x="131" y="746" width="1" height="5" fill="#000"/>
<rect x="156" y="746" width="1" height="5" fill="#000"/>
<rect x="181" y="746" width="1" height="9" fill="#000"/>
<rect x="207" y="746" width="1" height="5" fill="#000"/>
<rect x="232" y="746" width="1" height="5" fill="#000"/>
<rect x="257" y="746" width="1" height="5" fill="#000"/>
<rect x="283" y="746" width="1" height="9" fill="#000"/>
<rect x="308" y="746" width="1" height="5" fill="#000"/>
<rect x="333" y="746" width="1" height="5" fill="#000"/>
<rect x="359" y="746" width="1" height="5" fill="#000"/>
<rect x="384" y="746" width="1" height="9" fill="#000"/>
<rect x="409" y="746" width="1" height="5" fill="#000"/>
<rect x="435" y="746" width="1" height="5" fill="#000"/>
<rect x="460" y="746" width="1" height="5" fill="#000"/>
<rect x="485" y="746" width="1" height="9" fill="#000"/>
<rect x="511" y="746" width="1" height="5" fill="#000"/>
<rect x="536" y="746" width="1" height="5" fill="#000"/>
<rect x="561" y="746" width="1" height="5" fill="#000"/>
<rect x="587" y="746" width="1" height="9" fill="#000"/>
<rect x="612" y="746" width="1" height="5" fill="#000"/>
<rect x="637" y="746" width="1" height="5" fill="#000"/>
<rect x="663" y="746" width="1" height="5" fill="#000"/>
<rect x="688" y="746" width="1" height="9" fill="#000"/>
<rect x="704" y="53" width="29" height="160" fill="url(#cm)"/>
<rect x="733" y="52" width="1" height="161" fill="#000"/>
<rect x="733" y="52" width="7" height="1" fill="#000"/>
<rect x="733" y="55" width="4" height="1" fill="#000"/>
<rect x="733" y="57" width="4" height="1" fill="#000"/>
<rect x="733" y="60" width="4" height="1" fill="#000"/>
<rect x="733" y="63" width="4" height="1" fill="#000"/>
<rect x="733" y="65" width="4" height="1" fill="#000"/>
<rect x="733" y="68" width="4" height="1" fill="#000"/>
<rect x="733" y="71" width="4" height="1" fill="#000"/>
<rect x="733" y="73" width="4" height="1" fill="#000"/>
<rect x="733" y="76" width="4" height="1" fill="#000"/>
<rect x="733" y="79" width="7" height="1" fill="#000"/>
<rect x="733" y="81" width="4" height="1" fill="#000"/>
<rect x="733" y="84" width="4" height="1" fill="#000"/>
<rect x="733" y="87" width="4" height="1" fill="#000"/>
<rect x="733" y="89" width="4" height="1" fill="#000"/>
<rect x="733" y="92" width="4" height="1" fill="#000"/>
<rect x="733" y="95" width="4" height="1" fill="#000"/>
<rect x="733" y="97" width="4" height="1" fill="#000"/>
<rect x="733" y="100" width="4" height="1" fill="#000"/>
<rect x="733" y="103" width="4" height="1" fill="#000"/>
<rect x="733" y="105" width="7" height="1" fill="#000"/>
<rect x="733" y="108" width="4" height="1" fill="#000"/>
<rect x="733" y="111" width="4" height="1" fill="#000"/>
<rect x="733" y="113" width="4" height="1" fill="#000"/>
<rect x="733" y="116" width="4" height="1" fill="#000"/>
<rect x="733" y="119" width="4" height="1" fill="#000"/>
<rect x="733" y="121" width="4" height="1" fill="#000"/>
<rect x="733" y="124" width="4" height="1" fill="#000"/>
<rect x="733" y="127" width="4" height="1" fill="#000"/>
<rect x="733" y="129" width="4" height="1" fill="#000"/>
<rect x="733" y="132" width="7" height="1" fill="#000"/>
<rect x="733" y="135" width="4" height="1" fill="#000"/>
<rect x="733" y="137" width="4" height="1" fill="#000"/>
<rect x="733" y="140" width="4" height="1" fill="#000"/>
<rect x="733" y="143" width="4" height="1" fill="#000"/>
<rect x="733" y="145" width="4" height="1" fill="#000"/>
<rect x="733" y="148" width="4" height="1" fill="#000"/>
<rect x="733" y="151" width="4" height="1" fill="#000"/>
<rect x="733" y="153" width="4" height="1" fill="#000"/>
<rect x="733" y="156" width="4" height="1" fill="#000"/>
<rect x="733" y="159" width="7" height="1" fill="#000"/>
<rect x="733" y="161" width="4" height="1" fill="#000"/>
<rect x="733" y="164" width="4" height="1" fill="#000"/>
<rect x="733" y="167" width="4" height="1" fill="#000"/>
<rect x="733" y="169" width="4" height="1" fill="#000"/>
<rect x="733" y="172" width="4" height="1" fill="#000"/>
<rect x="733" y="175" width="4" height="1" fill="#000"/>
<rect x="733" y="177" width="4" height="1" fill="#000"/>
<rect x="733" y="180" width="4" height="1" fill="#000"/>
<rect x="733" y="183" width="4" height="1" fill="#000"/>
<rect x="733" y="185" width="7" height="1" fill="#000"/>
<rect x="733" y="188" width="4" height="1" fill="#000"/>
<rect x="733" y="191" width="4" height="1" fill="#000"/>
<rect x="733" y="193" width="4" height="1" fill="#000"/>
<rect x="733" y="196" width="4" height="1" fill="#000"/>
<rect x="733" y="199" width="4" height="1" fill="#000"/>
<rect x="733" y="201" width="4" height="1" fill="#000"/>
<rect x="733" y="204" width="4" height="1" fill="#000"/>
<rect x="733" y="207" width="4" height="1" fill="#000"/>
<rect x="733" y="209" width="4" height="1" fill="#000"/>
<rect x="733" y="212" width="7" height="1" fill="#000"/>
<rect x="704" y="320" width="29" height="160" fill="url(#cm)"/>
<rect x="733" y="319" width="1" height="161" fill="#000"/>
<rect x="733" y="319" width="7" height="1" fill="#000"/>
<rect x="733" y="322" width="4" height="1" fill="#000"/>
<rect x="733" y="324" width="4" height="1" fill="#000"/>
<rect x="733" y="327" width="4" height="1" fill="#000"/>
<rect x="733" y="330" width="4" height="1" fill="#000"/>
<rect x="733" y="332" width="4" height="1" fill="#000"/>
<rect x="733" y="335" width="4" height="1" fill="#000"/>
<rect x="733" y="338" width="4" height="1" fill="#000"/>
<rect x="733" y="340" width="4" height="1" fill="#000"/>
<rect x="733" y="343" width="4" height="1" fill="#000"/>
<rect x="733" y="346" width="7" height="1" fill="#000"/>
<rect x="733" y="348" width="4" height="1" fill="#000"/>
<rect x="733" y="351" width="4" height="1" fill="#000"/>
<rect x="733" y="354" width="4" height="1" fill="#000"/>
<rect x="733" y="356" width="4" height="1" fill="#000"/>
<rect x="733" y="359" width="4" height="1" fill="#000"/>
<rect x="733" y="362" width="4" height="1" fill="#000"/>
<rect x="733" y="364" width="4" height="1" fill="#000"/>
<rect x="733" y="367" width="4" height="1" fill="#000"/>
<rect x="733" y="370" width="4" height="1" fill="#000"/>
<rect x="733" y="372" width="7" height="1" fill="#000"/>
<rect x="733" y="375" width="4" height="1" fill="#000"/>
<rect x="733" y="378" width="4" height="1" fill="#000"/>
<rect x="733" y="380" width="4" height="1" fill="#000"/>
<rect x="733" y="383" width="4" height="1" fill="#000"/>
<rect x="733" y="386" width="4" height="1" fill="#000"/>
<rect x="733" y="388" width="4" height="1" fill="#000"/>
<rect x="733" y="391" width="4" height="1" fill="#000"/>
<rect x="733" y="394" width="4" height="1" fill="#000"/>
<rect x="733" y="396" width="4" height="1" fill="#000"/>
<rect x="733" y="399" width="7" height="1" fill="#000"/>
<rect x="733" y="402" width="4" height="1" fill="#000"/>
<rect x="733" y="404" width="4" height="1" fill="#000"/>
<rect x="733" y="407" width="4" height="1" fill="#000"/>
<rect x="733" y="410" width="4" height="1" fill="#000"/>
<rect x="733" y="412" width="4" height="1" fill="#000"/>
<rect x="733" y="415" width="4" height="1" fill="#000"/>
<rect x="733" y="418" width="4" height="1" fill="#000"/>
<rect x="733" y="420" width="4" height="1" fill="#000"/>
<rect x="733" y="423" width="4" height="1" fill="#000"/>
<rect x="733" y="426" width="7" height="1" fill="#000"/>
<rect x="733" y="428" width="4" height="1" fill="#000"/>
<rect x="733" y="431" width="4" height="1" fill="#000"/>
<rect x="733" y="434" width="4" height="1" fill="#000"/>
<rect x="733" y="436" width="4" height="1" fill="#000"/>
<rect x="733" y="439" width="4" height="1" fill="#000"/>
<rect x="733" y="442" width="4" height="1" fill="#000"/>
<rect x="733" y="444" width="4" height="1" fill="#000"/>
<rect x="733" y="447" width="4" height="1" fill="#000"/>
<rect x="733" y="450" width="4" height="1" fill="#000"/>
<rect x="733" y="452" width="7" height="1" fill="#000"/>
<rect x="733" y="455" width="4" height="1" fill="#000"/>
<rect x="733" y="458" width="4" height="1" fill="#000"/>
<rect x="733" y="460" width="4" height="1" fill="#000"/>
<rect x="733" y="463" width="4" height="1" fill="#000"/>
<rect x="733" y="466" width="4" height="1" fill="#000"/>
<rect x="733" y="468" width="4" height="1" fill="#000"/>
<rect x="733" y="471" width="4" height="1" fill="#000"/>
<rect x="733" y="474" width="4" height="1" fill="#000"/>
<rect x="733" y="476" width="4" height="1" fill="#000"/>
<rect x="733" y="479" width="7" height="1" fill="#000"/>
<rect x="704" y="587" width="29" height="160" fill="url(#cm)"/>
<rect x="733" y="586" width="1" height="161" fill="#000"/>
<rect x="733" y="586" width="7" height="1" fill="#000"/>
<rect x="733" y="589" width="4" height="1" fill="#000"/>
<rect x="733" y="591" width="4" height="1" fill="#000"/>
<rect x="733" y="594" width="4" height="1" fill="#000"/>
<rect x="733" y="597" width="4" height="1" fill="#000"/>
<rect x="733" y="599" width="4" height="1" fill="#000"/>
<rect x="733" y="602" width="4" height="1" fill="#000"/>
<rect x="733" y="605" width="4" height="1" fill="#000"/>
<rect x="733" y="607" width="4" height="1" fill="#000"/>
<rect x="733" y="610" width="4" height="1" fill="#000"/>
<rect x="733" y="613" width="7" height="1" fill="#000"/>
<rect x="733" y="615" width="4" height="1" fill="#000"/>
<rect x="733" y="618" width="4" height="1" fill="#000"/>
<rect x="733" y="621" width="4" height="1" fill="#000"/>
<rect x="733" y="623" width="4" height="1" fill="#000"/>
<rect x="733" y="626" width="4" height="1" fill="#000"/>
<rect x="733" y="629" width="4" height="1" fill="#000"/>
<rect x="733" y="631" width="4" height="1" fill="#000"/>
<rect x="733" y="634" width="4" height="1" fill="#000"/>
<rect x="733" y="637" width="4" height="1" fill="#000"/>
<rect x="733" y="639" width="7" height="1" fill="#000"/>
<rect x="733" y="642" width="4" height="1" fill="#000"/>
<rect x="733" y="645" width="4" height="1" fill="#000"/>
<rect x="733" y="647" width="4" height="1" fill="#000"/>
<rect x="733" y="650" width="4" height="1" fill="#000"/>
<rect x="733" y="653" width="4" height="1" fill="#000"/>
<rect x="733" y="655" width="4" height="1" fill="#000"/>
<rect x="733" y="658" width="4" height="1" fill="#000"/>
<rect x="733" y="661" width="4" height="1" fill="#000"/>
<rect x="733" y="663" width="4" height="1" fill="#000"/>
<rect x="733" y="666" width="7" height="1" fill="#000"/>
<rect x="733" y="669" width="4" height="1" fill="#000"/>
<rect x="733" y="671" width="4" height="1" fill="#000"/>
<rect x="733" y="674" width="4" height="1" fill="#000"/>
<rect x="733" y="677" width="4" height="1" fill="#000"/>
<rect x="733" y="679" width="4" height="1" fill="#000"/>
<rect x="733" y="682" width="4" height="1" fill="#000"/>
<rect x="733" y="685" width="4" height="1" fill="#000"/>
<rect x="733" y="687" width="4" height="1" fill="#000"/>
<rect x="733" y="690" width="4" height="1" fill="#000"/>
<rect x="733" y="693" width="7" height="1" fill="#000"/>
<rect x="733" y="695" width="4" height="1" fill="#000"/>
<rect x="733" y="698" width="4" height="1" fill="#000"/>
<rect x="733" y="701" width="4" height="1" fill="#000"/>
<rect x="733" y="703" width="4" height="1" fill="#000"/>
<rect x="733" y="706" width="4" height="1" fill="#000"/>
<rect x="733" y="709" width="4" height="1" fill="#000"/>
<rect x="733" y="711" width="4" height="1" fill="#000"/>
<rect x="733" y="714" width="4" height="1" fill="#000"/>
<rect x="733" y="717" width="4" height="1" fill="#000"/>
<rect x="733" y="719" width="7" height="1" fill="#000"/>
<rect x="733" y="722" width="4" height="1" fill="#000"/>
<rect x="733" y="725" width="4" height="1" fill="#000"/>
<rect x="733" y="727" width="4" height="1" fill="#000"/>
<rect x="733" y="730" width="4" height="1" fill="#000"/>
<rect x="733" y="733" width="4" height="1" fill="#000"/>
<rect x="733" y="735" width="4" height="1" fill="#000"/>
<rect x="733" y="738" width="4" height="1" fill="#000"/>
<rect x="733" y="741" width="4" height="1" fill="#000"/>
<rect x="733" y="743" width="4" height="1" fill="#000"/>
<rect x="733" y="746" width="7" height="1" fill="#000"/>
<g id="labels" style="filter:grayscale(1)">
<text x="52" y="39" font-size="14.4" text-anchor="middle">4</text>
<text x="52" y="80.5" font-size="14.4" text-anchor="middle">3</text>
<text x="52" y="126.5" font-size="14.4" text-anchor="middle">2</text>
<text x="52" y="172" font-size="14.4" text-anchor="middle">1</text>
<text x="52" y="212.5" font-size="14.4" text-anchor="middle">0</text>
<text x="80.5" y="241.6" font-size="14.4" text-anchor="middle">0</text>
<text x="181.833" y="241.6" font-size="14.4" text-anchor="middle">4</text>
<text x="283.167" y="241.6" font-size="14.4" text-anchor="middle">8</text>
<text x="384.5" y="241.6" font-size="14.4" text-anchor="middle" textLength="17.5" lengthAdjust="spacing">12</text>
<text x="485.833" y="241.6" font-size="14.4" text-anchor="middle" textLength="17.5" lengthAdjust="spacing">16</text>
<text x="587.167" y="241.6" font-size="14.4" text-anchor="middle" textLength="17.5" lengthAdjust="spacing">20</text>
<text x="688.5" y="241.6" font-size="14.4" text-anchor="middle" textLength="17.5" lengthAdjust="spacing">24</text>
<text x="339.5" y="260.5" font-size="14.4" text-anchor="start" textLength="37" lengthAdjust="spacing">Hour</text>
<text x="385" y="260.5" font-size="14.4" text-anchor="start" textLength="43.5" lengthAdjust="spacing">(UTC)</text>
<text x="34" y="168.5" font-size="14.4" text-anchor="start" textLength="49.5" lengthAdjust="spacing" transform="rotate(-90 34 168.5)">Height</text>
<text x="34" y="110.5" font-size="14.4" text-anchor="start" textLength="36.5" lengthAdjust="spacing" transform="rotate(-90 34 110.5)">(km)</text>
<text x="52" y="306" font-size="14.4" text-anchor="middle">4</text>
<text x="52" y="347.5" font-size="14.4" text-anchor="middle">3</text>
<text x="52" y="393.5" font-size="14.4" text-anchor="middle">2</text>
<text x="52" y="439" font-size="14.4" text-anchor="middle">1</text>
<text x="52" y="479.5" font-size="14.4" text-anchor="middle">0</text>
<text x="80.5" y="508.6" font-size="14.4" text-anchor="middle">0</text>
<text x="181.833" y="508.6" font-size="14.4" text-anchor="middle">4</text>
<text x="283.167" y="508.6" font-size="14.4" text-anchor="middle">8</text>
<text x="384.5" y="508.6" font-size="14.4" text-anchor="middle" textLength="17.5" lengthAdjust="spacing">12</text>
<text x="485.833" y="508.6" font-size="14.4" text-anchor="middle" textLength="17.5" lengthAdjust="spacing">16</text>
<text x="587.167" y="508.6" font-size="14.4" text-anchor="middle" textLength="17.5" lengthAdjust="spacing">20</text>
<text x="688.5" y="508.6" font-size="14.4" text-anchor="middle" textLength="17.5" lengthAdjust="spacing">24</text>
<text x="339.5" y="527.5" font-size="14.4" text-anchor="start" textLength="37" lengthAdjust="spacing">Hour</text>
<text x="385" y="527.5" font-size="14.4" text-anchor="start" textLength="43.5" lengthAdjust="spacing">(UTC)</text>
<text x="34" y="435.5" font-size="14.4" text-anchor="start" textLength="49.5" lengthAdjust="spacing" transform="rotate(-90 34 435.5)">Height</text>
<text x="34" y="377.5" font-size="14.4" text-anchor="start" textLength="36.5" lengthAdjust="spacing" transform="rotate(-90 34 377.5)">(km)</text>
<text x="52" y="573" font-size="14.4" text-anchor="middle">4</text>
<text x="52" y="614.5" font-size="14.4" text-anchor="middle">3</text>
<text x="52" y="660.5" font-size="14.4" text-anchor="middle">2</text>
<text x="52" y="706" font-size="14.4" text-anchor="middle">1</text>
<text x="52" y="746.5" font-size="14.4" text-anchor="middle">0</text>
<text x="80.5" y="775.6" font-size="14.4" text-anchor="middle">0</text>
<text x="181.833" y="775.6" font-size="14.4" text-anchor="middle">4</text>
<text x="283.167" y="775.6" font-size="14.4" text-anchor="middle">8</text>
<text x="384.5" y="775.6" font-size="14.4" text-anchor="middle" textLength="17.5" lengthAdjust="spacing">12</text>
<text x="485.833" y="775.6" font-size="14.4" text-anchor="middle" textLength="17.5" lengthAdjust="spacing">16</text>
<text x="587.167" y="775.6" font-size="14.4" text-anchor="middle" textLength="17.5" lengthAdjust="spacing">20</text>
<text x="688.5" y="775.6" font-size="14.4" text-anchor="middle" textLength="17.5" lengthAdjust="spacing">24</text>
<text x="339.5" y="794.5" font-size="14.4" text-anchor="start" textLength="37" lengthAdjust="spacing">Hour</text>
<text x="385" y="794.5" font-size="14.4" text-anchor="start" textLength="43.5" lengthAdjust="spacing">(UTC)</text>
<text x="34" y="702.5" font-size="14.4" text-anchor="start" textLength="49.5" lengthAdjust="spacing" transform="rotate(-90 34 702.5)">Height</text>
<text x="34" y="644.5" font-size="14.4" text-anchor="start" textLength="36.5" lengthAdjust="spacing" transform="rotate(-90 34 644.5)">(km)</text>
<text x="80.5" y="21" font-size="14.4" text-anchor="start" textLength="22.5" lengthAdjust="spacing">(a)</text>
<text x="111.5" y="21" font-size="14.4" text-anchor="start">&lt;</text>
<text x="124.5" y="21" font-size="14.4" text-anchor="start">w</text>
<text x="135.5" y="14" font-size="9.5" text-anchor="start">2</text>
<text x="141.5" y="21" font-size="14.4" text-anchor="start">&gt;</text>
<text x="162" y="21" font-size="14.4" text-anchor="start">(</text>
<text x="169.5" y="21" font-size="14.4" text-anchor="start" textLength="15.5" lengthAdjust="spacingAndGlyphs">m</text>
<text x="185" y="14" font-size="9.5" text-anchor="start">2</text>
<text x="192" y="21" font-size="14.4" text-anchor="start">s</text>
<text x="200.5" y="14" font-size="9.5" text-anchor="start" textLength="12.5" lengthAdjust="spacing">&#8722;2</text>
<text x="213.5" y="21" font-size="14.4" text-anchor="start">)</text>
<text x="228.5" y="21" font-size="14.4" text-anchor="start" textLength="21" lengthAdjust="spacing">for</text>
<text x="258.8" y="21" font-size="14.4" text-anchor="start" textLength="61.5" lengthAdjust="spacing">crgdlfpt</text>
<text x="327.5" y="21" font-size="14.4" text-anchor="start" textLength="78.5" lengthAdjust="spacing">20250101</text>
<text x="80.3" y="288" font-size="14.4" text-anchor="start" textLength="25.5" lengthAdjust="spacing">(b)</text>
<text x="111.3" y="288" font-size="14.4" text-anchor="start" textLength="75.5" lengthAdjust="spacing">Skewness</text>
<text x="194.8" y="288" font-size="14.4" text-anchor="start" textLength="21" lengthAdjust="spacing">for</text>
<text x="225.3" y="288" font-size="14.4" text-anchor="start" textLength="61.5" lengthAdjust="spacing">crgdlfpt</text>
<text x="294.3" y="288" font-size="14.4" text-anchor="start" textLength="79" lengthAdjust="spacing">20250101</text>
<text x="80.3" y="555" font-size="14.4" text-anchor="start" textLength="25.5" lengthAdjust="spacing">(c)</text>
<text x="110.5" y="555" font-size="14.4" text-anchor="start" textLength="66" lengthAdjust="spacing">Kurtosis</text>
<text x="184" y="555" font-size="14.4" text-anchor="start" textLength="21" lengthAdjust="spacing">for</text>
<text x="213.3" y="555" font-size="14.4" text-anchor="start" textLength="61.5" lengthAdjust="spacing">crgdlfpt</text>
<text x="282.3" y="555" font-size="14.4" text-anchor="start" textLength="79" lengthAdjust="spacing">20250101</text>
<text x="748" y="62.5" font-size="14.4" text-anchor="middle">2</text>
<text x="748" y="84.6667" font-size="14.4" text-anchor="middle">1</text>
<text x="748" y="111.333" font-size="14.4" text-anchor="middle">0</text>
<text x="744" y="138" font-size="14.4" text-anchor="start" textLength="9" lengthAdjust="spacing">&#8722;</text>
<text x="758.5" y="138" font-size="14.4" text-anchor="middle">1</text>
<text x="744" y="164.667" font-size="14.4" text-anchor="start" textLength="9" lengthAdjust="spacing">&#8722;</text>
<text x="758.5" y="164.667" font-size="14.4" text-anchor="middle">2</text>
<text x="744" y="191.333" font-size="14.4" text-anchor="start" textLength="9" lengthAdjust="spacing">&#8722;</text>
<text x="758.5" y="191.333" font-size="14.4" text-anchor="middle">3</text>
<text x="744" y="212.5" font-size="14.4" text-anchor="start" textLength="9" lengthAdjust="spacing">&#8722;</text>
<text x="758.5" y="212.5" font-size="14.4" text-anchor="middle">4</text>
<text x="748" y="329.5" font-size="14.4" text-anchor="middle">3</text>
<text x="748" y="351.667" font-size="14.4" text-anchor="middle">2</text>
<text x="748" y="378.333" font-size="14.4" text-anchor="middle">1</text>
<text x="748" y="405" font-size="14.4" text-anchor="middle">0</text>
<text x="744" y="431.667" font-size="14.4" text-anchor="start" textLength="9" lengthAdjust="spacing">&#8722;</text>
<text x="758.5" y="431.667" font-size="14.4" text-anchor="middle">1</text>
<text x="744" y="458.333" font-size="14.4" text-anchor="start" textLength="9" lengthAdjust="spacing">&#8722;</text>
<text x="758.5" y="458.333" font-size="14.4" text-anchor="middle">2</text>
<text x="744" y="479.5" font-size="14.4" text-anchor="start" textLength="9" lengthAdjust="spacing">&#8722;</text>
<text x="758.5" y="479.5" font-size="14.4" text-anchor="middle">3</text>
<text x="748" y="596.5" font-size="14.4" text-anchor="middle">6</text>
<text x="748" y="618.667" font-size="14.4" text-anchor="middle">5</text>
<text x="748" y="645.333" font-size="14.4" text-anchor="middle">4</text>
<text x="748" y="672" font-size="14.4" text-anchor="middle">3</text>
<text x="748" y="698.667" font-size="14.4" text-anchor="middle">2</text>
<text x="748" y="725.333" font-size="14.4" text-anchor="middle">1</text>
<text x="748" y="746.5" font-size="14.4" text-anchor="middle">0</text>
<text x="785" y="205.5" font-size="14.4" text-anchor="start" textLength="30" lengthAdjust="spacing" transform="rotate(-90 785 205.5)">log(</text>
<text x="785" y="174" font-size="14.4" text-anchor="start" transform="rotate(-90 785 174)">&lt;</text>
<text x="785" y="163.5" font-size="14.4" text-anchor="start" transform="rotate(-90 785 163.5)">w</text>
<text x="778" y="152.5" font-size="9.5" text-anchor="start" transform="rotate(-90 778 152.5)">2</text>
<text x="785" y="145.75" font-size="14.4" text-anchor="start" transform="rotate(-90 785 145.75)">&gt;</text>
<text x="785" y="125" font-size="14.4" text-anchor="start" textLength="17.5" lengthAdjust="spacing" transform="rotate(-90 785 125)">(m</text>
<text x="778" y="106.5" font-size="9.5" text-anchor="start" transform="rotate(-90 778 106.5)">2</text>
<text x="785" y="99.6" font-size="14.4" text-anchor="start" transform="rotate(-90 785 99.6)">s</text>
<text x="778" y="91.3" font-size="9.5" text-anchor="start" textLength="12" lengthAdjust="spacing" transform="rotate(-90 778 91.3)">&#8722;2</text>
<text x="785" y="77" font-size="14.4" text-anchor="start" textLength="16.5" lengthAdjust="spacing" transform="rotate(-90 785 77)">))</text>
<text x="783" y="437" font-size="14.4" text-anchor="start" textLength="74" lengthAdjust="spacing" transform="rotate(-90 783 437)">Skewness</text>
<text x="770" y="698" font-size="14.4" text-anchor="start" textLength="63.5" lengthAdjust="spacing" transform="rotate(-90 770 698)">Kurtosis</text>
<text x="7.5" y="791.5" font-size="13.5" text-anchor="start" textLength="35.5" lengthAdjust="spacing">Noise</text>
<text x="51.5" y="791.5" font-size="13.5" text-anchor="start" textLength="59" lengthAdjust="spacing">threshold</text>
<text x="115.7" y="791.5" font-size="13.5" text-anchor="start">=</text>
<text x="135" y="791.5" font-size="13.5" text-anchor="start" textLength="28.5" lengthAdjust="spacing">1.00</text>
<text x="173" y="791.5" font-size="13.5" text-anchor="start">m</text>
<text x="185.4" y="785.5" font-size="8.5" text-anchor="start">2</text>
<text x="190.5" y="791.5" font-size="13.5" text-anchor="start">s</text>
<text x="198.3" y="785.5" font-size="8.5" text-anchor="start" textLength="5.5" lengthAdjust="spacingAndGlyphs">&#8722;</text>
<text x="203.7" y="785.5" font-size="8.5" text-anchor="start">2</text>
<text x="602.6" y="791.5" font-size="8.5" text-anchor="start" textLength="11.4" lengthAdjust="spacing">RK</text>
<text x="619.4" y="791.5" font-size="8.5" text-anchor="start" textLength="39.4" lengthAdjust="spacing">Newsom,</text>
<text x="664.8" y="791.5" font-size="8.5" text-anchor="start" textLength="15.7" lengthAdjust="spacing">Sun</text>
<text x="686.6" y="791.5" font-size="8.5" text-anchor="start" textLength="15.7" lengthAdjust="spacing">Feb</text>
<text x="712" y="791.5" font-size="8.5" text-anchor="start">9</text>
<text x="722.5" y="791.5" font-size="8.5" text-anchor="start" textLength="40.7" lengthAdjust="spacing">02:20:54</text>
<text x="769" y="791.5" font-size="8.5" text-anchor="start" textLength="23" lengthAdjust="spacing">2025</text>
</g>
</svg></body></html>
